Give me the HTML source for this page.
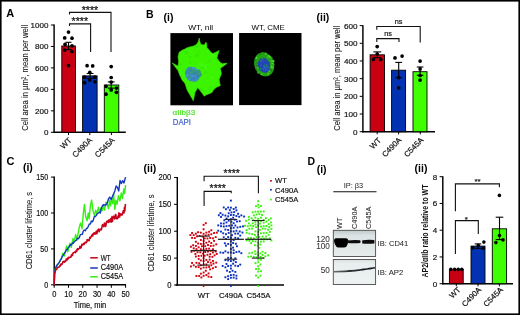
<!DOCTYPE html>
<html><head><meta charset="utf-8"><style>
html,body{margin:0;padding:0;background:#fff;overflow:hidden;}
svg{will-change:transform;display:block;font-family:"Liberation Sans",sans-serif;}
</style></head><body>
<svg width="520" height="315" viewBox="0 0 520 315">
<rect x="0" y="0" width="520" height="315" fill="#fff"/>
<text x="6.20" y="17.20" font-size="11" text-anchor="start" font-weight="bold" fill="#000" >A</text>
<text x="146.00" y="18.00" font-size="10.5" text-anchor="start" font-weight="bold" fill="#000" >B</text>
<text x="6.50" y="165.10" font-size="11" text-anchor="start" font-weight="bold" fill="#000" >C</text>
<text x="307.50" y="165.00" font-size="10.5" text-anchor="start" font-weight="bold" fill="#000" >D</text>
<text x="163.50" y="20.80" font-size="10.5" text-anchor="start" font-weight="bold" fill="#000" >(i)</text>
<text x="316.50" y="20.80" font-size="10.5" text-anchor="start" font-weight="bold" fill="#000" >(ii)</text>
<text x="22.90" y="171.40" font-size="10.5" text-anchor="start" font-weight="bold" fill="#000" >(i)</text>
<text x="143.50" y="172.40" font-size="10.5" text-anchor="start" font-weight="bold" fill="#000" >(ii)</text>
<text x="316.70" y="172.90" font-size="10.5" text-anchor="start" font-weight="bold" fill="#000" >(i)</text>
<text x="414.60" y="172.40" font-size="10.5" text-anchor="start" font-weight="bold" fill="#000" >(ii)</text>
<line x1="54.10" y1="24.60" x2="54.10" y2="133.00" stroke="#000" stroke-width="1.45" />
<line x1="50.90" y1="132.30" x2="54.10" y2="132.30" stroke="#000" stroke-width="1.0" />
<text x="48.40" y="135.20" font-size="8" text-anchor="end" font-weight="normal" fill="#111" stroke="#111" stroke-width="0.18" >0</text>
<line x1="50.90" y1="110.84" x2="54.10" y2="110.84" stroke="#000" stroke-width="1.0" />
<text x="48.40" y="113.74" font-size="8" text-anchor="end" font-weight="normal" fill="#111" stroke="#111" stroke-width="0.18" >200</text>
<line x1="50.90" y1="89.38" x2="54.10" y2="89.38" stroke="#000" stroke-width="1.0" />
<text x="48.40" y="92.28" font-size="8" text-anchor="end" font-weight="normal" fill="#111" stroke="#111" stroke-width="0.18" >400</text>
<line x1="50.90" y1="67.92" x2="54.10" y2="67.92" stroke="#000" stroke-width="1.0" />
<text x="48.40" y="70.82" font-size="8" text-anchor="end" font-weight="normal" fill="#111" stroke="#111" stroke-width="0.18" >600</text>
<line x1="50.90" y1="46.46" x2="54.10" y2="46.46" stroke="#000" stroke-width="1.0" />
<text x="48.40" y="49.36" font-size="8" text-anchor="end" font-weight="normal" fill="#111" stroke="#111" stroke-width="0.18" >800</text>
<line x1="50.90" y1="25.00" x2="54.10" y2="25.00" stroke="#000" stroke-width="1.0" />
<text x="48.40" y="27.90" font-size="8" text-anchor="end" font-weight="normal" fill="#111" stroke="#111" stroke-width="0.18" >1000</text>
<line x1="53.40" y1="132.30" x2="125.80" y2="132.30" stroke="#000" stroke-width="1.45" />
<text x="28.30" y="77.80" font-size="9" text-anchor="middle" font-weight="normal" fill="#111" stroke="#111" stroke-width="0.05" transform="rotate(-90 28.3 77.8)" textLength="106" lengthAdjust="spacingAndGlyphs" >Cell area in µm², mean per well</text>
<rect x="61.80" y="46.00" width="13.70" height="86.30" fill="#c80012" stroke="#000" stroke-width="0.9" />
<rect x="82.60" y="75.90" width="14.50" height="56.40" fill="#0232b2" stroke="#000" stroke-width="0.9" />
<rect x="104.30" y="85.00" width="14.50" height="47.30" fill="#40ff02" stroke="#000" stroke-width="0.9" />
<line x1="68.50" y1="42.30" x2="68.50" y2="49.60" stroke="#000" stroke-width="1.1" />
<line x1="65.50" y1="42.30" x2="71.50" y2="42.30" stroke="#000" stroke-width="1.1" />
<line x1="65.50" y1="49.60" x2="71.50" y2="49.60" stroke="#000" stroke-width="1.1" />
<line x1="90.10" y1="73.50" x2="90.10" y2="78.30" stroke="#000" stroke-width="1.1" />
<line x1="86.70" y1="73.50" x2="93.50" y2="73.50" stroke="#000" stroke-width="1.1" />
<line x1="86.70" y1="78.30" x2="93.50" y2="78.30" stroke="#000" stroke-width="1.1" />
<line x1="111.20" y1="81.90" x2="111.20" y2="88.10" stroke="#000" stroke-width="1.1" />
<line x1="107.80" y1="81.90" x2="114.60" y2="81.90" stroke="#000" stroke-width="1.1" />
<line x1="107.80" y1="88.10" x2="114.60" y2="88.10" stroke="#000" stroke-width="1.1" />
<circle cx="68.50" cy="32.10" r="1.85" fill="#000"/>
<circle cx="64.70" cy="37.90" r="1.85" fill="#000"/>
<circle cx="72.00" cy="38.20" r="1.85" fill="#000"/>
<circle cx="65.10" cy="44.30" r="1.85" fill="#000"/>
<circle cx="72.00" cy="45.80" r="1.85" fill="#000"/>
<circle cx="64.80" cy="50.10" r="1.85" fill="#000"/>
<circle cx="72.00" cy="51.60" r="1.85" fill="#000"/>
<circle cx="68.50" cy="65.60" r="1.85" fill="#000"/>
<circle cx="87.10" cy="65.70" r="1.85" fill="#000"/>
<circle cx="92.70" cy="65.90" r="1.85" fill="#000"/>
<circle cx="89.80" cy="72.40" r="1.85" fill="#000"/>
<circle cx="84.60" cy="77.20" r="1.85" fill="#000"/>
<circle cx="89.80" cy="79.90" r="1.85" fill="#000"/>
<circle cx="94.90" cy="77.20" r="1.85" fill="#000"/>
<circle cx="84.60" cy="82.70" r="1.85" fill="#000"/>
<circle cx="94.90" cy="81.80" r="1.85" fill="#000"/>
<circle cx="111.20" cy="66.60" r="1.85" fill="#000"/>
<circle cx="111.20" cy="77.50" r="1.85" fill="#000"/>
<circle cx="111.20" cy="82.10" r="1.85" fill="#000"/>
<circle cx="106.00" cy="86.30" r="1.85" fill="#000"/>
<circle cx="116.40" cy="88.10" r="1.85" fill="#000"/>
<circle cx="111.20" cy="89.90" r="1.85" fill="#000"/>
<circle cx="116.40" cy="92.30" r="1.85" fill="#000"/>
<circle cx="106.00" cy="94.20" r="1.85" fill="#000"/>
<line x1="68.50" y1="132.30" x2="68.50" y2="135.10" stroke="#000" stroke-width="1.0" />
<line x1="89.80" y1="132.30" x2="89.80" y2="135.10" stroke="#000" stroke-width="1.0" />
<line x1="111.40" y1="132.30" x2="111.40" y2="135.10" stroke="#000" stroke-width="1.0" />
<text x="72.30" y="140.80" font-size="8" text-anchor="end" font-weight="normal" fill="#111" stroke="#111" stroke-width="0.18" transform="rotate(-45 72.3 140.8)" >WT</text>
<text x="92.80" y="140.60" font-size="8" text-anchor="end" font-weight="normal" fill="#111" stroke="#111" stroke-width="0.18" transform="rotate(-45 92.8 140.6)" >C490A</text>
<text x="115.40" y="140.60" font-size="8" text-anchor="end" font-weight="normal" fill="#111" stroke="#111" stroke-width="0.18" transform="rotate(-45 115.4 140.6)" >C545A</text>
<polyline points="69.5,25.9 69.5,23.9 90.6,23.9 90.6,52" fill="none" stroke="#111" stroke-width="1.1"/>
<polyline points="69.5,14.6 69.5,12.4 111,12.4 111,52" fill="none" stroke="#111" stroke-width="1.1"/>
<text x="79.80" y="25.20" font-size="10.6" text-anchor="middle" font-weight="normal" fill="#111" stroke="#1a1a1a" stroke-width="0.25">****</text>
<text x="90.00" y="13.80" font-size="10.6" text-anchor="middle" font-weight="normal" fill="#111" stroke="#1a1a1a" stroke-width="0.25">****</text>
<rect x="170.40" y="33.10" width="62.60" height="72.20" fill="#000" stroke="none" stroke-width="0.8" />
<rect x="239.10" y="33.00" width="62.40" height="72.10" fill="#000" stroke="none" stroke-width="0.8" />
<text x="200.70" y="30.30" font-size="7.9" text-anchor="middle" font-weight="normal" fill="#111" stroke="#111" stroke-width="0.05" textLength="25" lengthAdjust="spacingAndGlyphs" >WT, nil</text>
<text x="268.20" y="30.30" font-size="7.9" text-anchor="middle" font-weight="normal" fill="#111" stroke="#111" stroke-width="0.05" textLength="33.4" lengthAdjust="spacingAndGlyphs" >WT, CME</text>
<text x="172.50" y="115.20" font-size="8.0" text-anchor="start" font-weight="normal" fill="#48e622" stroke="#48e622" stroke-width="0.18" textLength="22.7" lengthAdjust="spacingAndGlyphs" >αIIbβ3</text>
<text x="172.80" y="125.00" font-size="8.2" text-anchor="start" font-weight="normal" fill="#4062cc" stroke="#4062cc" stroke-width="0.18" textLength="18.2" lengthAdjust="spacingAndGlyphs" >DAPI</text>
<defs><filter id="bl" x="-5%" y="-5%" width="110%" height="110%"><feGaussianBlur stdDeviation="0.35"/></filter><filter id="bl2" x="-20%" y="-20%" width="140%" height="140%"><feGaussianBlur stdDeviation="0.6"/></filter><clipPath id="cp1"><rect x="170.4" y="33.1" width="62.6" height="72.2"/></clipPath></defs>
<defs><clipPath id="cpc"><polygon points="199.26,38.11 199.94,42.00 200.86,44.29 202.69,44.74 204.29,44.97 205.89,42.23 206.57,43.14 207.03,47.71 208.40,49.09 210.00,51.14 212.29,53.43 214.11,52.97 215.71,52.29 219.14,50.46 217.54,55.71 216.86,58.00 218.00,59.60 219.14,61.43 220.74,62.80 222.57,63.71 227.14,63.26 223.03,66.46 220.29,68.29 220.97,71.03 221.43,74.00 220.06,76.97 219.14,79.71 220.29,85.66 216.86,87.03 214.57,88.86 212.97,90.69 212.29,92.29 208.86,93.89 206.11,94.80 204.29,96.17 202.00,92.97 199.71,90.00 197.43,87.71 195.83,91.14 195.14,92.29 193.31,100.74 191.03,96.86 189.43,93.89 188.29,92.29 186.46,88.40 186.00,86.57 184.86,83.14 182.57,80.86 181.43,78.57 180.29,76.29 178.69,72.40 178.00,70.57 172.29,63.03 176.86,65.54 178.00,66.00 178.69,61.43 178.00,56.86 178.69,54.11 179.14,52.29 182.57,50.00 184.86,49.09 187.14,47.71 189.43,47.03 191.71,46.57 195.14,45.43 197.43,43.14 198.57,40.86"/></clipPath></defs>
<g clip-path="url(#cp1)" filter="url(#bl)"><polygon points="199.26,38.11 199.94,42.00 200.86,44.29 202.69,44.74 204.29,44.97 205.89,42.23 206.57,43.14 207.03,47.71 208.40,49.09 210.00,51.14 212.29,53.43 214.11,52.97 215.71,52.29 219.14,50.46 217.54,55.71 216.86,58.00 218.00,59.60 219.14,61.43 220.74,62.80 222.57,63.71 227.14,63.26 223.03,66.46 220.29,68.29 220.97,71.03 221.43,74.00 220.06,76.97 219.14,79.71 220.29,85.66 216.86,87.03 214.57,88.86 212.97,90.69 212.29,92.29 208.86,93.89 206.11,94.80 204.29,96.17 202.00,92.97 199.71,90.00 197.43,87.71 195.83,91.14 195.14,92.29 193.31,100.74 191.03,96.86 189.43,93.89 188.29,92.29 186.46,88.40 186.00,86.57 184.86,83.14 182.57,80.86 181.43,78.57 180.29,76.29 178.69,72.40 178.00,70.57 172.29,63.03 176.86,65.54 178.00,66.00 178.69,61.43 178.00,56.86 178.69,54.11 179.14,52.29 182.57,50.00 184.86,49.09 187.14,47.71 189.43,47.03 191.71,46.57 195.14,45.43 197.43,43.14 198.57,40.86" fill="#3cf406" stroke="#34d40a" stroke-width="0.7" stroke-linejoin="round"/>
<g clip-path="url(#cpc)">
<circle cx="217.2" cy="60.2" r="1.1" fill="#30dc04" opacity="0.45"/>
<circle cx="189.8" cy="99.1" r="2.2" fill="#30dc04" opacity="0.45"/>
<circle cx="181.9" cy="79.1" r="1.5" fill="#48ff12" opacity="0.45"/>
<circle cx="175.5" cy="99.3" r="1.0" fill="#30dc04" opacity="0.45"/>
<circle cx="201.4" cy="91.8" r="1.1" fill="#48ff12" opacity="0.45"/>
<circle cx="180.3" cy="74.2" r="1.2" fill="#48ff12" opacity="0.45"/>
<circle cx="185.1" cy="51.9" r="0.9" fill="#30dc04" opacity="0.45"/>
<circle cx="211.7" cy="95.9" r="1.6" fill="#36e806" opacity="0.45"/>
<circle cx="178.1" cy="92.0" r="2.2" fill="#36e806" opacity="0.45"/>
<circle cx="185.4" cy="60.4" r="0.9" fill="#36e806" opacity="0.45"/>
<circle cx="198.9" cy="44.9" r="1.9" fill="#36e806" opacity="0.45"/>
<circle cx="226.6" cy="56.9" r="1.7" fill="#36e806" opacity="0.45"/>
<circle cx="226.7" cy="61.8" r="1.5" fill="#48ff12" opacity="0.45"/>
<circle cx="214.6" cy="98.6" r="1.5" fill="#30dc04" opacity="0.45"/>
<circle cx="204.9" cy="65.0" r="1.0" fill="#48ff12" opacity="0.45"/>
<circle cx="174.7" cy="101.1" r="0.9" fill="#36e806" opacity="0.45"/>
<circle cx="176.1" cy="62.2" r="2.2" fill="#30dc04" opacity="0.45"/>
<circle cx="187.8" cy="71.2" r="1.6" fill="#48ff12" opacity="0.45"/>
<circle cx="177.0" cy="69.2" r="1.8" fill="#30dc04" opacity="0.45"/>
<circle cx="182.0" cy="72.9" r="0.8" fill="#48ff12" opacity="0.45"/>
<circle cx="223.4" cy="97.3" r="1.9" fill="#36e806" opacity="0.45"/>
<circle cx="174.0" cy="89.2" r="1.0" fill="#30dc04" opacity="0.45"/>
<circle cx="211.9" cy="54.9" r="1.7" fill="#48ff12" opacity="0.45"/>
<circle cx="180.1" cy="64.2" r="1.5" fill="#30dc04" opacity="0.45"/>
<circle cx="186.9" cy="53.0" r="2.0" fill="#30dc04" opacity="0.45"/>
<circle cx="182.9" cy="41.6" r="2.1" fill="#30dc04" opacity="0.45"/>
<circle cx="210.2" cy="87.7" r="2.2" fill="#36e806" opacity="0.45"/>
<circle cx="212.5" cy="77.3" r="1.5" fill="#48ff12" opacity="0.45"/>
<circle cx="206.3" cy="94.9" r="1.5" fill="#48ff12" opacity="0.45"/>
<circle cx="189.9" cy="57.1" r="1.4" fill="#30dc04" opacity="0.45"/>
<circle cx="175.0" cy="70.2" r="0.8" fill="#36e806" opacity="0.45"/>
<circle cx="181.6" cy="45.6" r="2.0" fill="#36e806" opacity="0.45"/>
<circle cx="185.0" cy="45.2" r="1.4" fill="#30dc04" opacity="0.45"/>
<circle cx="225.4" cy="63.8" r="1.4" fill="#48ff12" opacity="0.45"/>
<circle cx="202.8" cy="90.7" r="1.4" fill="#36e806" opacity="0.45"/>
<circle cx="197.1" cy="55.6" r="2.0" fill="#30dc04" opacity="0.45"/>
<circle cx="220.3" cy="60.1" r="2.1" fill="#48ff12" opacity="0.45"/>
<circle cx="226.4" cy="86.8" r="2.2" fill="#48ff12" opacity="0.45"/>
<circle cx="227.2" cy="87.6" r="1.7" fill="#48ff12" opacity="0.45"/>
<circle cx="201.2" cy="64.8" r="2.0" fill="#48ff12" opacity="0.45"/>
<circle cx="226.4" cy="94.3" r="2.0" fill="#36e806" opacity="0.45"/>
<circle cx="190.7" cy="44.9" r="1.7" fill="#30dc04" opacity="0.45"/>
<circle cx="181.4" cy="97.6" r="1.8" fill="#30dc04" opacity="0.45"/>
<circle cx="223.2" cy="76.5" r="1.6" fill="#36e806" opacity="0.45"/>
<circle cx="205.3" cy="72.7" r="2.0" fill="#36e806" opacity="0.45"/>
<circle cx="180.5" cy="82.9" r="1.0" fill="#30dc04" opacity="0.45"/>
<circle cx="209.2" cy="61.3" r="1.7" fill="#36e806" opacity="0.45"/>
<circle cx="207.7" cy="99.2" r="0.9" fill="#36e806" opacity="0.45"/>
<circle cx="190.2" cy="62.3" r="1.7" fill="#36e806" opacity="0.45"/>
<circle cx="219.8" cy="42.9" r="1.8" fill="#30dc04" opacity="0.45"/>
<circle cx="200.8" cy="88.9" r="1.5" fill="#30dc04" opacity="0.45"/>
<circle cx="197.2" cy="46.8" r="1.3" fill="#30dc04" opacity="0.45"/>
<circle cx="176.1" cy="88.7" r="1.9" fill="#36e806" opacity="0.45"/>
<circle cx="224.6" cy="79.3" r="2.0" fill="#36e806" opacity="0.45"/>
<circle cx="222.1" cy="45.4" r="0.9" fill="#36e806" opacity="0.45"/>
<circle cx="195.0" cy="84.3" r="1.0" fill="#48ff12" opacity="0.45"/>
<circle cx="185.0" cy="75.2" r="1.8" fill="#48ff12" opacity="0.45"/>
<circle cx="199.3" cy="51.8" r="1.6" fill="#36e806" opacity="0.45"/>
<circle cx="194.9" cy="80.9" r="1.6" fill="#30dc04" opacity="0.45"/>
<circle cx="195.7" cy="46.0" r="1.9" fill="#36e806" opacity="0.45"/>
<circle cx="227.7" cy="59.0" r="1.7" fill="#48ff12" opacity="0.45"/>
<circle cx="226.1" cy="66.6" r="1.5" fill="#48ff12" opacity="0.45"/>
<circle cx="216.4" cy="53.2" r="1.3" fill="#30dc04" opacity="0.45"/>
<circle cx="224.7" cy="61.4" r="1.0" fill="#48ff12" opacity="0.45"/>
<circle cx="202.4" cy="67.7" r="1.2" fill="#30dc04" opacity="0.45"/>
<circle cx="211.6" cy="45.8" r="1.6" fill="#30dc04" opacity="0.45"/>
<circle cx="189.1" cy="50.7" r="0.8" fill="#48ff12" opacity="0.45"/>
<circle cx="205.4" cy="66.8" r="1.5" fill="#48ff12" opacity="0.45"/>
<circle cx="211.3" cy="94.3" r="1.9" fill="#36e806" opacity="0.45"/>
<circle cx="197.8" cy="93.4" r="1.3" fill="#48ff12" opacity="0.45"/>
</g>
<path d="M186,70 Q187,66.5 191,66.8 Q195,67 197.5,70 Q200,72.5 202,74.5 Q201.5,76.5 199.5,77.5 Q198.5,81 195,81.8 Q190.5,82.2 187.5,79.5 Q184.8,76.5 185.2,73 Q185.3,71.2 186,70 Z" fill="#3a88c4" opacity="0.95"/>
<circle cx="199.31" cy="71.08" r="0.87" fill="#3a9a5a" opacity="0.75"/>
<circle cx="187.67" cy="72.50" r="0.62" fill="#4a98e8" opacity="0.75"/>
<circle cx="187.16" cy="70.65" r="0.96" fill="#3a9a5a" opacity="0.75"/>
<circle cx="187.92" cy="75.95" r="0.65" fill="#3468c0" opacity="0.75"/>
<circle cx="189.61" cy="79.80" r="0.79" fill="#40a860" opacity="0.75"/>
<circle cx="195.69" cy="74.16" r="0.70" fill="#4a98e8" opacity="0.75"/>
<circle cx="186.46" cy="76.27" r="0.63" fill="#3a78d8" opacity="0.75"/>
<circle cx="189.31" cy="72.43" r="1.22" fill="#2e9a6a" opacity="0.75"/>
<circle cx="189.78" cy="69.32" r="0.72" fill="#3a78d8" opacity="0.75"/>
<circle cx="192.15" cy="74.65" r="0.67" fill="#3468c0" opacity="0.75"/>
<circle cx="190.78" cy="71.88" r="1.05" fill="#40a860" opacity="0.75"/>
<circle cx="200.27" cy="75.59" r="0.68" fill="#3a9a5a" opacity="0.75"/>
<circle cx="200.34" cy="74.10" r="0.62" fill="#2e9a6a" opacity="0.75"/>
<circle cx="192.40" cy="69.72" r="0.88" fill="#4a98e8" opacity="0.75"/>
<circle cx="196.13" cy="75.53" r="0.96" fill="#4a98e8" opacity="0.75"/>
<circle cx="187.15" cy="71.13" r="1.06" fill="#2e9a6a" opacity="0.75"/>
<circle cx="195.19" cy="68.09" r="0.72" fill="#40a860" opacity="0.75"/>
<circle cx="196.37" cy="69.10" r="0.85" fill="#4a98e8" opacity="0.75"/>
<circle cx="191.04" cy="79.48" r="0.66" fill="#3468c0" opacity="0.75"/>
<circle cx="195.46" cy="79.01" r="1.06" fill="#40a860" opacity="0.75"/>
<circle cx="195.59" cy="73.46" r="0.91" fill="#3a9a5a" opacity="0.75"/>
<circle cx="189.62" cy="76.98" r="0.67" fill="#3a9a5a" opacity="0.75"/>
<circle cx="196.16" cy="78.72" r="0.80" fill="#3a78d8" opacity="0.75"/>
<circle cx="195.15" cy="68.08" r="0.78" fill="#40a860" opacity="0.75"/>
<circle cx="197.42" cy="72.77" r="0.76" fill="#4a98e8" opacity="0.75"/>
<circle cx="193.68" cy="72.90" r="0.77" fill="#3468c0" opacity="0.75"/>
<circle cx="199.86" cy="72.96" r="0.90" fill="#2e9a6a" opacity="0.75"/>
<circle cx="196.06" cy="75.80" r="1.07" fill="#40a860" opacity="0.75"/>
<circle cx="188.00" cy="76.46" r="1.15" fill="#40a860" opacity="0.75"/>
<circle cx="191.97" cy="77.17" r="1.29" fill="#4080d0" opacity="0.75"/>
<circle cx="190.04" cy="70.58" r="0.95" fill="#3468c0" opacity="0.75"/>
<circle cx="198.15" cy="72.77" r="0.71" fill="#3a9a5a" opacity="0.75"/>
<circle cx="194.60" cy="74.43" r="0.61" fill="#3a78d8" opacity="0.75"/>
<circle cx="188.74" cy="78.56" r="0.99" fill="#4a98e8" opacity="0.75"/>
<circle cx="186.38" cy="73.88" r="1.26" fill="#3a9a5a" opacity="0.75"/>
<circle cx="194.68" cy="72.65" r="0.63" fill="#3a9a5a" opacity="0.75"/>
<circle cx="197.75" cy="72.21" r="0.73" fill="#4080d0" opacity="0.75"/>
<circle cx="193.75" cy="67.93" r="1.13" fill="#4a98e8" opacity="0.75"/>
<circle cx="195.45" cy="73.18" r="0.86" fill="#40a860" opacity="0.75"/>
<circle cx="195.20" cy="71.39" r="0.80" fill="#3a78d8" opacity="0.75"/>
<circle cx="188.70" cy="75.69" r="0.84" fill="#40a860" opacity="0.75"/>
<circle cx="189.90" cy="70.29" r="0.94" fill="#4080d0" opacity="0.75"/>
<circle cx="190.54" cy="69.23" r="0.62" fill="#40a860" opacity="0.75"/>
<circle cx="191.41" cy="68.63" r="0.90" fill="#40a860" opacity="0.75"/>
<circle cx="188.12" cy="78.02" r="0.69" fill="#3a78d8" opacity="0.75"/>
<circle cx="192.31" cy="76.18" r="1.24" fill="#4a98e8" opacity="0.75"/>
<circle cx="194.34" cy="79.11" r="0.98" fill="#3a78d8" opacity="0.75"/>
<circle cx="192.19" cy="72.29" r="1.14" fill="#40a860" opacity="0.75"/>
<circle cx="197.45" cy="77.53" r="0.82" fill="#3a78d8" opacity="0.75"/>
<circle cx="196.24" cy="76.37" r="0.77" fill="#3a78d8" opacity="0.75"/>
<circle cx="194.56" cy="71.97" r="1.17" fill="#3a9a5a" opacity="0.75"/>
<circle cx="191.74" cy="69.31" r="0.76" fill="#3468c0" opacity="0.75"/>
<circle cx="192.14" cy="70.20" r="0.88" fill="#40a860" opacity="0.75"/>
<circle cx="196.59" cy="74.66" r="0.74" fill="#3468c0" opacity="0.75"/>
<circle cx="195.23" cy="72.94" r="0.71" fill="#3468c0" opacity="0.75"/>
<circle cx="197.94" cy="70.08" r="1.02" fill="#4a98e8" opacity="0.75"/>
<circle cx="187.80" cy="74.07" r="0.72" fill="#3a78d8" opacity="0.75"/>
<circle cx="191.19" cy="79.34" r="0.97" fill="#2e9a6a" opacity="0.75"/>
<circle cx="197.55" cy="76.02" r="1.16" fill="#4080d0" opacity="0.75"/>
<circle cx="192.74" cy="77.71" r="0.76" fill="#3468c0" opacity="0.75"/>
<circle cx="198.72" cy="70.75" r="1.20" fill="#3a9a5a" opacity="0.75"/>
<circle cx="190.05" cy="76.02" r="1.09" fill="#4080d0" opacity="0.75"/>
<circle cx="189.96" cy="68.36" r="0.76" fill="#2e9a6a" opacity="0.75"/>
<circle cx="198.72" cy="75.99" r="1.29" fill="#2e9a6a" opacity="0.75"/>
<circle cx="194.18" cy="72.40" r="0.90" fill="#4080d0" opacity="0.75"/>
<circle cx="195.39" cy="71.07" r="0.80" fill="#2e9a6a" opacity="0.75"/>
<circle cx="190.68" cy="79.08" r="0.62" fill="#4a98e8" opacity="0.75"/>
<circle cx="191.75" cy="71.00" r="1.28" fill="#2e9a6a" opacity="0.75"/>
<circle cx="198.65" cy="72.17" r="0.95" fill="#2e9a6a" opacity="0.75"/>
<circle cx="187.04" cy="75.01" r="1.21" fill="#4a98e8" opacity="0.75"/>
<circle cx="199.79" cy="71.72" r="1.22" fill="#2e9a6a" opacity="0.75"/>
<circle cx="187.03" cy="71.68" r="0.82" fill="#4080d0" opacity="0.75"/>
<circle cx="189.84" cy="68.89" r="0.71" fill="#40a860" opacity="0.75"/>
<circle cx="194.09" cy="78.19" r="0.62" fill="#3a9a5a" opacity="0.75"/>
<circle cx="200.32" cy="72.77" r="0.86" fill="#3a9a5a" opacity="0.75"/>
<circle cx="193.35" cy="72.34" r="0.97" fill="#2e9a6a" opacity="0.75"/>
<circle cx="196.41" cy="71.30" r="0.80" fill="#4080d0" opacity="0.75"/>
<circle cx="197.89" cy="74.45" r="1.08" fill="#3a9a5a" opacity="0.75"/>
<circle cx="195.41" cy="70.91" r="0.88" fill="#40a860" opacity="0.75"/>
<circle cx="196.19" cy="70.31" r="0.89" fill="#2e9a6a" opacity="0.75"/>
<circle cx="190.42" cy="68.65" r="0.91" fill="#3a9a5a" opacity="0.75"/>
<circle cx="200.20" cy="74.52" r="1.26" fill="#2e9a6a" opacity="0.75"/>
<circle cx="197.50" cy="76.67" r="0.84" fill="#3a78d8" opacity="0.75"/>
<circle cx="192.46" cy="78.60" r="0.72" fill="#4080d0" opacity="0.75"/>
<circle cx="199.70" cy="73.18" r="0.85" fill="#4a98e8" opacity="0.75"/>
<circle cx="194.68" cy="73.20" r="0.69" fill="#3a9a5a" opacity="0.75"/>
<circle cx="189.72" cy="77.02" r="1.15" fill="#2e9a6a" opacity="0.75"/>
<circle cx="186.72" cy="72.32" r="1.25" fill="#4080d0" opacity="0.75"/>
<circle cx="189.13" cy="71.88" r="1.13" fill="#4080d0" opacity="0.75"/>
<circle cx="194.52" cy="78.92" r="0.69" fill="#3a78d8" opacity="0.75"/>
</g>
<g filter="url(#bl2)">
<ellipse cx="264.2" cy="64.4" rx="9.8" ry="12.3" transform="rotate(-18 264.2 64.4)" fill="#22a014"/>
<circle cx="271.66" cy="63.95" r="0.81" fill="#46e022" opacity="0.9"/>
<circle cx="261.37" cy="55.54" r="1.24" fill="#2aa818" opacity="0.9"/>
<circle cx="271.45" cy="65.57" r="1.29" fill="#2aa818" opacity="0.9"/>
<circle cx="270.01" cy="56.91" r="1.04" fill="#46e022" opacity="0.9"/>
<circle cx="271.86" cy="66.76" r="1.03" fill="#46e022" opacity="0.9"/>
<circle cx="272.44" cy="68.39" r="1.28" fill="#2aa818" opacity="0.9"/>
<circle cx="271.18" cy="61.07" r="0.91" fill="#46e022" opacity="0.9"/>
<circle cx="262.37" cy="53.08" r="1.07" fill="#1e8a12" opacity="0.9"/>
<circle cx="269.01" cy="71.50" r="0.95" fill="#46e022" opacity="0.9"/>
<circle cx="263.88" cy="74.55" r="1.05" fill="#36c01c" opacity="0.9"/>
<circle cx="261.50" cy="54.12" r="1.17" fill="#2aa818" opacity="0.9"/>
<circle cx="273.54" cy="64.36" r="0.78" fill="#46e022" opacity="0.9"/>
<circle cx="261.99" cy="72.99" r="0.92" fill="#2aa818" opacity="0.9"/>
<circle cx="271.09" cy="69.95" r="1.10" fill="#1e8a12" opacity="0.9"/>
<circle cx="261.76" cy="74.15" r="1.00" fill="#46e022" opacity="0.9"/>
<circle cx="257.02" cy="62.93" r="1.08" fill="#1e8a12" opacity="0.9"/>
<circle cx="267.20" cy="72.99" r="1.05" fill="#1e8a12" opacity="0.9"/>
<circle cx="255.70" cy="59.62" r="1.31" fill="#1e8a12" opacity="0.9"/>
<circle cx="268.36" cy="74.60" r="0.91" fill="#2aa818" opacity="0.9"/>
<circle cx="272.01" cy="66.66" r="1.38" fill="#46e022" opacity="0.9"/>
<circle cx="260.51" cy="54.08" r="1.10" fill="#1e8a12" opacity="0.9"/>
<circle cx="265.68" cy="53.82" r="1.36" fill="#36c01c" opacity="0.9"/>
<circle cx="257.18" cy="68.10" r="1.38" fill="#46e022" opacity="0.9"/>
<circle cx="257.85" cy="72.73" r="0.74" fill="#46e022" opacity="0.9"/>
<circle cx="272.26" cy="67.39" r="0.95" fill="#46e022" opacity="0.9"/>
<circle cx="269.34" cy="57.47" r="0.97" fill="#36c01c" opacity="0.9"/>
<circle cx="273.22" cy="61.09" r="1.33" fill="#46e022" opacity="0.9"/>
<circle cx="263.59" cy="74.72" r="1.34" fill="#2aa818" opacity="0.9"/>
<circle cx="272.61" cy="63.63" r="0.80" fill="#46e022" opacity="0.9"/>
<circle cx="268.96" cy="56.30" r="1.21" fill="#46e022" opacity="0.9"/>
<circle cx="271.21" cy="58.93" r="1.34" fill="#2aa818" opacity="0.9"/>
<circle cx="268.00" cy="73.54" r="0.93" fill="#36c01c" opacity="0.9"/>
<circle cx="258.64" cy="72.46" r="0.98" fill="#2aa818" opacity="0.9"/>
<circle cx="260.18" cy="54.14" r="1.07" fill="#1e8a12" opacity="0.9"/>
<circle cx="256.31" cy="68.54" r="1.33" fill="#1e8a12" opacity="0.9"/>
<circle cx="257.15" cy="59.92" r="0.90" fill="#2aa818" opacity="0.9"/>
<circle cx="268.06" cy="73.82" r="0.92" fill="#46e022" opacity="0.9"/>
<circle cx="271.22" cy="70.57" r="1.07" fill="#1e8a12" opacity="0.9"/>
<circle cx="256.53" cy="57.93" r="1.09" fill="#46e022" opacity="0.9"/>
<circle cx="257.04" cy="65.68" r="1.20" fill="#1e8a12" opacity="0.9"/>
<circle cx="273.13" cy="65.75" r="0.93" fill="#2aa818" opacity="0.9"/>
<circle cx="271.77" cy="60.68" r="0.93" fill="#36c01c" opacity="0.9"/>
<circle cx="271.48" cy="57.89" r="1.02" fill="#2aa818" opacity="0.9"/>
<circle cx="268.05" cy="56.78" r="1.39" fill="#36c01c" opacity="0.9"/>
<circle cx="272.76" cy="65.29" r="1.26" fill="#2aa818" opacity="0.9"/>
<ellipse cx="263.9" cy="65.2" rx="5.9" ry="7.6" transform="rotate(-18 263.9 65.2)" fill="#2446b4"/>
<circle cx="268.81" cy="62.68" r="0.89" fill="#1a40b0" opacity="0.8"/>
<circle cx="261.74" cy="64.79" r="0.92" fill="#2a6aa0" opacity="0.8"/>
<circle cx="269.04" cy="67.30" r="0.90" fill="#2a6aa0" opacity="0.8"/>
<circle cx="262.61" cy="58.80" r="0.71" fill="#28a040" opacity="0.8"/>
<circle cx="267.00" cy="65.86" r="1.00" fill="#2a8a50" opacity="0.8"/>
<circle cx="262.92" cy="65.58" r="0.54" fill="#28a040" opacity="0.8"/>
<circle cx="268.90" cy="65.37" r="0.86" fill="#1a40b0" opacity="0.8"/>
<circle cx="268.28" cy="70.12" r="0.97" fill="#2a6aa0" opacity="0.8"/>
<circle cx="267.76" cy="70.66" r="0.97" fill="#1a40b0" opacity="0.8"/>
<circle cx="264.02" cy="66.01" r="0.84" fill="#28a040" opacity="0.8"/>
<circle cx="261.58" cy="65.22" r="0.54" fill="#2a6aa0" opacity="0.8"/>
<circle cx="262.58" cy="58.84" r="0.64" fill="#28a040" opacity="0.8"/>
<circle cx="262.61" cy="64.98" r="0.98" fill="#1a40b0" opacity="0.8"/>
<circle cx="265.01" cy="64.63" r="0.60" fill="#2a8a50" opacity="0.8"/>
<circle cx="268.60" cy="67.30" r="0.71" fill="#2a6aa0" opacity="0.8"/>
<circle cx="260.77" cy="59.86" r="0.73" fill="#2a6aa0" opacity="0.8"/>
<circle cx="268.66" cy="69.03" r="0.79" fill="#1a40b0" opacity="0.8"/>
<circle cx="264.71" cy="67.81" r="0.83" fill="#3060e0" opacity="0.8"/>
<circle cx="267.28" cy="69.43" r="0.88" fill="#2a8a50" opacity="0.8"/>
<circle cx="260.81" cy="68.76" r="0.61" fill="#2a6aa0" opacity="0.8"/>
<circle cx="260.56" cy="68.49" r="0.83" fill="#28a040" opacity="0.8"/>
<circle cx="263.52" cy="69.03" r="0.67" fill="#28a040" opacity="0.8"/>
<circle cx="261.06" cy="60.97" r="0.95" fill="#2a8a50" opacity="0.8"/>
<circle cx="265.88" cy="69.65" r="0.86" fill="#3060e0" opacity="0.8"/>
<circle cx="266.37" cy="66.38" r="0.82" fill="#2a8a50" opacity="0.8"/>
<circle cx="263.69" cy="61.07" r="0.67" fill="#2a6aa0" opacity="0.8"/>
<circle cx="265.07" cy="70.75" r="0.62" fill="#3060e0" opacity="0.8"/>
<circle cx="266.94" cy="67.49" r="0.82" fill="#3060e0" opacity="0.8"/>
<circle cx="266.63" cy="64.44" r="0.51" fill="#3060e0" opacity="0.8"/>
<circle cx="265.30" cy="67.41" r="0.63" fill="#2a8a50" opacity="0.8"/>
</g>
<line x1="362.90" y1="25.20" x2="362.90" y2="132.40" stroke="#000" stroke-width="1.45" />
<line x1="359.70" y1="131.70" x2="362.90" y2="131.70" stroke="#000" stroke-width="1.0" />
<text x="357.40" y="134.60" font-size="8.1" text-anchor="end" font-weight="normal" fill="#111" stroke="#111" stroke-width="0.18" >0</text>
<line x1="359.70" y1="114.02" x2="362.90" y2="114.02" stroke="#000" stroke-width="1.0" />
<text x="357.40" y="116.92" font-size="8.1" text-anchor="end" font-weight="normal" fill="#111" stroke="#111" stroke-width="0.18" >100</text>
<line x1="359.70" y1="96.34" x2="362.90" y2="96.34" stroke="#000" stroke-width="1.0" />
<text x="357.40" y="99.24" font-size="8.1" text-anchor="end" font-weight="normal" fill="#111" stroke="#111" stroke-width="0.18" >200</text>
<line x1="359.70" y1="78.66" x2="362.90" y2="78.66" stroke="#000" stroke-width="1.0" />
<text x="357.40" y="81.56" font-size="8.1" text-anchor="end" font-weight="normal" fill="#111" stroke="#111" stroke-width="0.18" >300</text>
<line x1="359.70" y1="60.98" x2="362.90" y2="60.98" stroke="#000" stroke-width="1.0" />
<text x="357.40" y="63.88" font-size="8.1" text-anchor="end" font-weight="normal" fill="#111" stroke="#111" stroke-width="0.18" >400</text>
<line x1="359.70" y1="43.30" x2="362.90" y2="43.30" stroke="#000" stroke-width="1.0" />
<text x="357.40" y="46.20" font-size="8.1" text-anchor="end" font-weight="normal" fill="#111" stroke="#111" stroke-width="0.18" >500</text>
<line x1="359.70" y1="25.62" x2="362.90" y2="25.62" stroke="#000" stroke-width="1.0" />
<text x="357.40" y="28.52" font-size="8.1" text-anchor="end" font-weight="normal" fill="#111" stroke="#111" stroke-width="0.18" >600</text>
<line x1="362.20" y1="131.70" x2="435.00" y2="131.70" stroke="#000" stroke-width="1.45" />
<text x="340.30" y="78.30" font-size="8.9" text-anchor="middle" font-weight="normal" fill="#111" stroke="#111" stroke-width="0.05" transform="rotate(-90 340.3 78.3)" textLength="105" lengthAdjust="spacingAndGlyphs" >Cell area in µm², mean per well</text>
<rect x="370.10" y="54.80" width="14.40" height="76.90" fill="#c80012" stroke="#000" stroke-width="0.9" />
<rect x="391.60" y="70.20" width="14.00" height="61.50" fill="#0232b2" stroke="#000" stroke-width="0.9" />
<rect x="413.00" y="71.70" width="14.00" height="60.00" fill="#40ff02" stroke="#000" stroke-width="0.9" />
<line x1="377.30" y1="51.90" x2="377.30" y2="57.70" stroke="#000" stroke-width="1.1" />
<line x1="373.40" y1="51.90" x2="381.20" y2="51.90" stroke="#000" stroke-width="1.1" />
<line x1="373.40" y1="57.70" x2="381.20" y2="57.70" stroke="#000" stroke-width="1.1" />
<line x1="398.70" y1="62.40" x2="398.70" y2="77.70" stroke="#000" stroke-width="1.1" />
<line x1="395.30" y1="62.40" x2="402.10" y2="62.40" stroke="#000" stroke-width="1.1" />
<line x1="395.30" y1="77.70" x2="402.10" y2="77.70" stroke="#000" stroke-width="1.1" />
<line x1="420.10" y1="67.00" x2="420.10" y2="75.30" stroke="#000" stroke-width="1.1" />
<line x1="416.80" y1="67.00" x2="423.40" y2="67.00" stroke="#000" stroke-width="1.1" />
<line x1="416.80" y1="75.30" x2="423.40" y2="75.30" stroke="#000" stroke-width="1.1" />
<circle cx="377.20" cy="46.60" r="1.85" fill="#000"/>
<circle cx="377.20" cy="54.00" r="1.85" fill="#000"/>
<circle cx="373.40" cy="59.50" r="1.85" fill="#000"/>
<circle cx="380.80" cy="59.50" r="1.85" fill="#000"/>
<circle cx="395.00" cy="57.90" r="1.85" fill="#000"/>
<circle cx="402.10" cy="56.10" r="1.85" fill="#000"/>
<circle cx="398.70" cy="77.60" r="1.85" fill="#000"/>
<circle cx="398.70" cy="87.80" r="1.85" fill="#000"/>
<circle cx="420.10" cy="61.10" r="1.85" fill="#000"/>
<circle cx="420.10" cy="68.90" r="1.85" fill="#000"/>
<circle cx="420.10" cy="75.50" r="1.85" fill="#000"/>
<circle cx="420.10" cy="80.10" r="1.85" fill="#000"/>
<line x1="377.20" y1="131.70" x2="377.20" y2="134.30" stroke="#000" stroke-width="1.0" />
<line x1="398.60" y1="131.70" x2="398.60" y2="134.30" stroke="#000" stroke-width="1.0" />
<line x1="420.30" y1="131.70" x2="420.30" y2="134.30" stroke="#000" stroke-width="1.0" />
<text x="381.50" y="141.00" font-size="7.8" text-anchor="end" font-weight="normal" fill="#111" stroke="#111" stroke-width="0.18" transform="rotate(-45 381.5 141)" >WT</text>
<text x="402.00" y="140.60" font-size="7.8" text-anchor="end" font-weight="normal" fill="#111" stroke="#111" stroke-width="0.18" transform="rotate(-45 402 140.6)" >C490A</text>
<text x="424.00" y="140.60" font-size="7.8" text-anchor="end" font-weight="normal" fill="#111" stroke="#111" stroke-width="0.18" transform="rotate(-45 424 140.6)" >C545A</text>
<polyline points="376.8,42 376.8,38.6 399,38.6 399,42" fill="none" stroke="#111" stroke-width="1.1"/>
<polyline points="376.8,29.8 376.8,26.5 420.2,26.5 420.2,42.5" fill="none" stroke="#111" stroke-width="1.1"/>
<text x="388.00" y="35.50" font-size="7.3" text-anchor="middle" font-weight="normal" fill="#111" stroke="#111" stroke-width="0.18" >ns</text>
<text x="398.50" y="23.50" font-size="7.3" text-anchor="middle" font-weight="normal" fill="#111" stroke="#111" stroke-width="0.18" >ns</text>
<line x1="54.20" y1="176.50" x2="54.20" y2="285.50" stroke="#000" stroke-width="1.45" />
<line x1="51.00" y1="284.80" x2="54.20" y2="284.80" stroke="#000" stroke-width="1.0" />
<text x="48.20" y="287.80" font-size="8.6" text-anchor="end" font-weight="normal" fill="#111" stroke="#111" stroke-width="0.18" textLength="3.97" lengthAdjust="spacingAndGlyphs" >0</text>
<line x1="51.00" y1="248.90" x2="54.20" y2="248.90" stroke="#000" stroke-width="1.0" />
<text x="48.20" y="251.90" font-size="8.6" text-anchor="end" font-weight="normal" fill="#111" stroke="#111" stroke-width="0.18" textLength="7.94" lengthAdjust="spacingAndGlyphs" >50</text>
<line x1="51.00" y1="213.00" x2="54.20" y2="213.00" stroke="#000" stroke-width="1.0" />
<text x="48.20" y="216.00" font-size="8.6" text-anchor="end" font-weight="normal" fill="#111" stroke="#111" stroke-width="0.18" textLength="11.91" lengthAdjust="spacingAndGlyphs" >100</text>
<line x1="51.00" y1="177.10" x2="54.20" y2="177.10" stroke="#000" stroke-width="1.0" />
<text x="48.20" y="180.10" font-size="8.6" text-anchor="end" font-weight="normal" fill="#111" stroke="#111" stroke-width="0.18" textLength="11.91" lengthAdjust="spacingAndGlyphs" >150</text>
<line x1="53.50" y1="284.80" x2="126.00" y2="284.80" stroke="#000" stroke-width="1.45" />
<line x1="54.20" y1="284.80" x2="54.20" y2="287.80" stroke="#000" stroke-width="1.0" />
<text x="54.20" y="297.20" font-size="8.6" text-anchor="middle" font-weight="normal" fill="#111" stroke="#111" stroke-width="0.18" textLength="4.15" lengthAdjust="spacingAndGlyphs" >0</text>
<line x1="68.48" y1="284.80" x2="68.48" y2="287.80" stroke="#000" stroke-width="1.0" />
<text x="68.48" y="297.20" font-size="8.6" text-anchor="middle" font-weight="normal" fill="#111" stroke="#111" stroke-width="0.18" textLength="8.3" lengthAdjust="spacingAndGlyphs" >10</text>
<line x1="82.76" y1="284.80" x2="82.76" y2="287.80" stroke="#000" stroke-width="1.0" />
<text x="82.76" y="297.20" font-size="8.6" text-anchor="middle" font-weight="normal" fill="#111" stroke="#111" stroke-width="0.18" textLength="8.3" lengthAdjust="spacingAndGlyphs" >20</text>
<line x1="97.04" y1="284.80" x2="97.04" y2="287.80" stroke="#000" stroke-width="1.0" />
<text x="97.04" y="297.20" font-size="8.6" text-anchor="middle" font-weight="normal" fill="#111" stroke="#111" stroke-width="0.18" textLength="8.3" lengthAdjust="spacingAndGlyphs" >30</text>
<line x1="111.32" y1="284.80" x2="111.32" y2="287.80" stroke="#000" stroke-width="1.0" />
<text x="111.32" y="297.20" font-size="8.6" text-anchor="middle" font-weight="normal" fill="#111" stroke="#111" stroke-width="0.18" textLength="8.3" lengthAdjust="spacingAndGlyphs" >40</text>
<line x1="125.60" y1="284.80" x2="125.60" y2="287.80" stroke="#000" stroke-width="1.0" />
<text x="125.60" y="297.20" font-size="8.6" text-anchor="middle" font-weight="normal" fill="#111" stroke="#111" stroke-width="0.18" textLength="8.3" lengthAdjust="spacingAndGlyphs" >50</text>
<text x="90.00" y="308.30" font-size="8.2" text-anchor="middle" font-weight="normal" fill="#111" stroke="#111" stroke-width="0.18" textLength="32.6" lengthAdjust="spacingAndGlyphs" >Time, min</text>
<text x="32.30" y="230.60" font-size="9" text-anchor="middle" font-weight="normal" fill="#111" stroke="#111" stroke-width="0.05" transform="rotate(-90 32.3 230.6)" textLength="77.4" lengthAdjust="spacingAndGlyphs" >CD61 cluster lifetime, s</text>
<polyline points="54.20,284.80 54.63,271.88 55.63,267.57 58.48,263.26 61.34,258.95 62.77,253.21 64.20,256.08 66.62,246.03 67.77,251.77 69.91,243.16 71.34,247.46 73.05,238.49 74.19,241.72 75.62,234.54 77.05,240.28 78.05,233.82 79.19,227.36 80.62,223.05 82.05,228.80 83.19,214.44 84.47,204.38 85.62,216.59 87.04,220.90 88.19,213.00 89.19,218.74 90.33,205.82 91.61,200.08 92.76,209.41 93.61,213.00 94.61,215.87 95.61,210.13 97.04,213.72 98.47,207.26 99.61,212.28 100.90,207.97 102.04,210.85 103.47,205.82 104.61,210.13 105.89,202.23 107.32,204.38 108.46,208.69 109.61,200.08 110.61,205.82 111.75,197.92 112.75,203.67 113.60,193.97 114.89,209.41 115.89,200.08 117.03,204.38 118.46,195.77 119.89,200.79 121.32,192.90 122.46,198.64 123.74,189.02 124.60,193.61 125.60,185.00" fill="none" stroke="#36ef12" stroke-width="1.4" stroke-linejoin="round"/>
<polyline points="54.20,284.80 54.63,271.88 55.34,269.40 56.34,266.17 57.34,264.55 58.34,263.71 59.34,262.30 60.34,260.18 61.34,258.72 62.34,256.35 63.34,254.92 64.34,253.45 65.34,251.91 66.34,250.16 67.34,249.34 68.34,247.30 69.34,246.64 70.34,244.59 71.34,245.07 72.34,242.95 73.34,243.31 74.33,241.38 75.33,241.11 76.33,240.12 77.33,238.28 78.33,238.73 79.33,237.55 80.33,234.68 81.33,234.40 82.33,234.20 83.33,231.04 84.33,229.96 85.33,230.82 86.33,228.69 87.33,228.12 88.33,226.30 89.33,224.05 90.33,224.10 91.33,221.05 92.33,221.86 93.33,220.15 94.33,216.44 95.33,216.65 96.33,215.42 97.33,213.58 98.33,212.99 99.32,212.33 100.32,213.00 101.32,208.42 102.32,205.97 103.32,204.70 104.61,205.00 105.89,205.03 107.18,203.13 108.46,198.95 109.75,197.08 111.03,199.55 112.32,196.79 113.60,193.87 114.89,190.64 116.18,186.04 117.46,187.47 118.75,191.01 120.03,180.46 121.32,183.41 122.60,180.68 123.89,183.02 125.60,177.10" fill="none" stroke="#1038c0" stroke-width="1.4" stroke-linejoin="round"/>
<polyline points="54.20,284.80 54.63,273.31 55.06,272.79 55.49,270.79 55.91,269.79 56.34,269.18 56.77,269.22 57.20,267.77 57.63,267.31 58.06,267.40 58.48,266.98 58.91,267.04 59.34,267.04 59.77,265.94 60.20,265.11 60.63,265.64 61.05,263.86 61.48,264.48 61.91,264.06 62.34,263.99 62.77,261.81 63.20,261.96 63.62,261.34 64.05,261.51 64.48,262.32 64.91,261.39 65.34,260.70 65.77,261.14 66.20,259.07 66.62,259.94 67.05,260.04 67.48,258.30 67.91,259.43 68.34,257.35 68.77,258.04 69.19,257.48 69.62,257.59 70.05,256.93 70.48,257.26 70.91,257.23 71.34,254.91 71.76,255.97 72.19,254.28 72.62,255.23 73.05,253.00 73.48,252.76 73.91,252.68 74.33,252.25 74.76,252.29 75.19,251.50 75.62,252.64 76.05,251.33 76.48,250.01 76.91,251.23 77.33,248.92 77.76,248.59 78.19,249.47 78.62,249.18 79.05,248.54 79.48,248.31 79.90,246.20 80.33,247.50 80.76,248.13 81.19,247.54 81.62,245.32 82.05,244.09 82.47,245.15 82.90,244.75 83.33,244.18 83.76,243.18 84.19,244.41 84.62,242.82 85.04,242.59 85.47,241.99 85.90,243.02 86.33,242.67 86.76,241.71 87.19,239.41 87.62,240.94 88.04,239.72 88.47,240.31 88.90,240.62 89.33,240.38 89.76,237.39 90.19,237.12 90.61,238.15 91.04,236.66 91.47,236.29 91.90,235.08 92.33,234.46 92.76,236.10 93.18,233.53 93.61,233.23 94.04,234.24 94.47,232.72 94.90,233.84 95.33,233.90 95.75,234.03 96.18,231.14 96.61,233.61 97.04,233.61 97.47,230.22 97.90,229.95 98.33,230.76 98.75,228.89 99.18,231.81 99.61,230.56 100.04,230.04 100.47,229.10 100.90,229.80 101.32,229.87 101.75,228.30 102.18,225.40 102.61,224.62 103.04,225.29 103.47,226.12 103.89,226.79 104.32,223.10 104.75,224.75 105.18,223.43 105.61,226.43 106.04,225.21 106.46,221.81 106.89,221.66 107.32,220.87 107.75,221.90 108.18,222.42 108.61,221.29 109.04,219.56 109.46,221.98 109.89,220.46 110.32,221.46 110.75,218.52 111.18,222.18 111.61,218.31 112.03,216.60 112.46,221.39 112.89,218.04 113.32,217.52 113.75,216.11 114.18,217.34 114.60,218.93 115.03,217.86 115.46,214.45 115.89,214.49 116.32,218.70 116.75,218.70 117.17,218.47 117.60,218.65 118.03,215.91 118.46,217.50 118.89,212.87 119.32,213.90 119.75,216.90 120.17,214.09 120.60,215.09 121.03,213.70 121.46,215.10 121.89,215.12 122.32,214.69 122.74,213.13 123.17,210.64 123.60,211.35 124.03,213.00 124.46,207.26 124.89,210.85 125.31,204.38 125.60,205.82" fill="none" stroke="#c8001a" stroke-width="1.5" stroke-linejoin="round"/>
<line x1="90.20" y1="257.80" x2="97.80" y2="257.80" stroke="#c8001a" stroke-width="1.5" />
<text x="100.70" y="260.70" font-size="8.4" text-anchor="start" font-weight="normal" fill="#111" stroke="#111" stroke-width="0.18" textLength="10.0" lengthAdjust="spacingAndGlyphs" >WT</text>
<line x1="90.20" y1="268.00" x2="97.80" y2="268.00" stroke="#1038c0" stroke-width="1.5" />
<text x="100.70" y="269.80" font-size="8.4" text-anchor="start" font-weight="normal" fill="#111" stroke="#111" stroke-width="0.18" textLength="22.4" lengthAdjust="spacingAndGlyphs" >C490A</text>
<line x1="90.20" y1="276.80" x2="97.80" y2="276.80" stroke="#36ef12" stroke-width="1.5" />
<text x="100.70" y="279.00" font-size="8.4" text-anchor="start" font-weight="normal" fill="#111" stroke="#111" stroke-width="0.18" textLength="22.4" lengthAdjust="spacingAndGlyphs" >C545A</text>
<line x1="177.30" y1="177.00" x2="177.30" y2="285.70" stroke="#000" stroke-width="1.45" />
<line x1="174.10" y1="285.00" x2="177.30" y2="285.00" stroke="#000" stroke-width="1.0" />
<text x="171.40" y="288.00" font-size="8.8" text-anchor="end" font-weight="normal" fill="#111" stroke="#111" stroke-width="0.18" textLength="4.27" lengthAdjust="spacingAndGlyphs" >0</text>
<line x1="174.10" y1="258.12" x2="177.30" y2="258.12" stroke="#000" stroke-width="1.0" />
<text x="171.40" y="261.12" font-size="8.8" text-anchor="end" font-weight="normal" fill="#111" stroke="#111" stroke-width="0.18" textLength="8.54" lengthAdjust="spacingAndGlyphs" >50</text>
<line x1="174.10" y1="231.24" x2="177.30" y2="231.24" stroke="#000" stroke-width="1.0" />
<text x="171.40" y="234.24" font-size="8.8" text-anchor="end" font-weight="normal" fill="#111" stroke="#111" stroke-width="0.18" textLength="12.81" lengthAdjust="spacingAndGlyphs" >100</text>
<line x1="174.10" y1="204.36" x2="177.30" y2="204.36" stroke="#000" stroke-width="1.0" />
<text x="171.40" y="207.36" font-size="8.8" text-anchor="end" font-weight="normal" fill="#111" stroke="#111" stroke-width="0.18" textLength="12.81" lengthAdjust="spacingAndGlyphs" >150</text>
<line x1="174.10" y1="177.48" x2="177.30" y2="177.48" stroke="#000" stroke-width="1.0" />
<text x="171.40" y="180.48" font-size="8.8" text-anchor="end" font-weight="normal" fill="#111" stroke="#111" stroke-width="0.18" textLength="12.81" lengthAdjust="spacingAndGlyphs" >200</text>
<line x1="175.70" y1="285.00" x2="284.00" y2="285.00" stroke="#000" stroke-width="1.45" />
<text x="154.40" y="233.00" font-size="9" text-anchor="middle" font-weight="normal" fill="#111" stroke="#111" stroke-width="0.05" transform="rotate(-90 154.4 233)" textLength="77" lengthAdjust="spacingAndGlyphs" >CD61 cluster lifetime, s</text>
<rect x="202.65" y="266.59" width="1.9" height="1.9" fill="#d0000e"/>
<rect x="205.40" y="266.53" width="1.9" height="1.9" fill="#d0000e"/>
<rect x="202.65" y="263.67" width="1.9" height="1.9" fill="#d0000e"/>
<rect x="202.65" y="248.77" width="1.9" height="1.9" fill="#d0000e"/>
<rect x="202.65" y="260.08" width="1.9" height="1.9" fill="#d0000e"/>
<rect x="205.40" y="247.85" width="1.9" height="1.9" fill="#d0000e"/>
<rect x="199.90" y="267.73" width="1.9" height="1.9" fill="#d0000e"/>
<rect x="202.65" y="232.84" width="1.9" height="1.9" fill="#d0000e"/>
<rect x="199.90" y="248.28" width="1.9" height="1.9" fill="#d0000e"/>
<rect x="204.30" y="251.10" width="1.9" height="1.9" fill="#d0000e"/>
<rect x="202.10" y="252.67" width="1.9" height="1.9" fill="#d0000e"/>
<rect x="205.40" y="258.99" width="1.9" height="1.9" fill="#d0000e"/>
<rect x="205.40" y="231.62" width="1.9" height="1.9" fill="#d0000e"/>
<rect x="202.65" y="223.89" width="1.9" height="1.9" fill="#d0000e"/>
<rect x="202.65" y="243.02" width="1.9" height="1.9" fill="#d0000e"/>
<rect x="205.40" y="241.77" width="1.9" height="1.9" fill="#d0000e"/>
<rect x="204.85" y="234.48" width="1.9" height="1.9" fill="#d0000e"/>
<rect x="202.65" y="274.83" width="1.9" height="1.9" fill="#d0000e"/>
<rect x="202.65" y="239.93" width="1.9" height="1.9" fill="#d0000e"/>
<rect x="199.90" y="231.71" width="1.9" height="1.9" fill="#d0000e"/>
<rect x="199.90" y="264.31" width="1.9" height="1.9" fill="#d0000e"/>
<rect x="199.35" y="251.39" width="1.9" height="1.9" fill="#d0000e"/>
<rect x="199.90" y="259.48" width="1.9" height="1.9" fill="#d0000e"/>
<rect x="207.05" y="250.67" width="1.9" height="1.9" fill="#d0000e"/>
<rect x="207.05" y="261.02" width="1.9" height="1.9" fill="#d0000e"/>
<rect x="197.70" y="266.11" width="1.9" height="1.9" fill="#d0000e"/>
<rect x="205.40" y="274.10" width="1.9" height="1.9" fill="#d0000e"/>
<rect x="203.75" y="237.45" width="1.9" height="1.9" fill="#d0000e"/>
<rect x="198.25" y="262.29" width="1.9" height="1.9" fill="#d0000e"/>
<rect x="203.75" y="254.76" width="1.9" height="1.9" fill="#d0000e"/>
<rect x="208.15" y="266.04" width="1.9" height="1.9" fill="#d0000e"/>
<rect x="202.65" y="271.59" width="1.9" height="1.9" fill="#d0000e"/>
<rect x="199.90" y="272.74" width="1.9" height="1.9" fill="#d0000e"/>
<rect x="199.90" y="242.93" width="1.9" height="1.9" fill="#d0000e"/>
<rect x="196.60" y="251.30" width="1.9" height="1.9" fill="#d0000e"/>
<rect x="207.05" y="244.07" width="1.9" height="1.9" fill="#d0000e"/>
<rect x="197.15" y="242.58" width="1.9" height="1.9" fill="#d0000e"/>
<rect x="200.45" y="254.84" width="1.9" height="1.9" fill="#d0000e"/>
<rect x="206.50" y="253.84" width="1.9" height="1.9" fill="#d0000e"/>
<rect x="209.25" y="268.41" width="1.9" height="1.9" fill="#d0000e"/>
<rect x="201.55" y="235.60" width="1.9" height="1.9" fill="#d0000e"/>
<rect x="197.70" y="246.31" width="1.9" height="1.9" fill="#d0000e"/>
<rect x="209.80" y="244.97" width="1.9" height="1.9" fill="#d0000e"/>
<rect x="208.15" y="240.58" width="1.9" height="1.9" fill="#d0000e"/>
<rect x="207.60" y="233.69" width="1.9" height="1.9" fill="#d0000e"/>
<rect x="197.70" y="257.92" width="1.9" height="1.9" fill="#d0000e"/>
<rect x="209.80" y="249.85" width="1.9" height="1.9" fill="#d0000e"/>
<rect x="195.50" y="248.15" width="1.9" height="1.9" fill="#d0000e"/>
<rect x="197.70" y="255.00" width="1.9" height="1.9" fill="#d0000e"/>
<rect x="194.95" y="240.83" width="1.9" height="1.9" fill="#d0000e"/>
<rect x="199.90" y="239.03" width="1.9" height="1.9" fill="#d0000e"/>
<rect x="198.80" y="235.00" width="1.9" height="1.9" fill="#d0000e"/>
<rect x="209.25" y="253.22" width="1.9" height="1.9" fill="#d0000e"/>
<rect x="193.30" y="249.86" width="1.9" height="1.9" fill="#d0000e"/>
<rect x="210.35" y="242.07" width="1.9" height="1.9" fill="#d0000e"/>
<rect x="208.70" y="255.80" width="1.9" height="1.9" fill="#d0000e"/>
<rect x="208.15" y="247.65" width="1.9" height="1.9" fill="#d0000e"/>
<rect x="194.95" y="265.84" width="1.9" height="1.9" fill="#d0000e"/>
<rect x="212.00" y="251.50" width="1.9" height="1.9" fill="#d0000e"/>
<rect x="214.75" y="250.56" width="1.9" height="1.9" fill="#d0000e"/>
<rect x="212.00" y="248.26" width="1.9" height="1.9" fill="#d0000e"/>
<rect x="196.05" y="235.39" width="1.9" height="1.9" fill="#d0000e"/>
<rect x="206.50" y="237.54" width="1.9" height="1.9" fill="#d0000e"/>
<rect x="210.35" y="233.32" width="1.9" height="1.9" fill="#d0000e"/>
<rect x="204.85" y="222.23" width="1.9" height="1.9" fill="#d0000e"/>
<rect x="194.95" y="244.95" width="1.9" height="1.9" fill="#d0000e"/>
<rect x="209.25" y="237.02" width="1.9" height="1.9" fill="#d0000e"/>
<rect x="210.35" y="264.29" width="1.9" height="1.9" fill="#d0000e"/>
<rect x="195.50" y="261.89" width="1.9" height="1.9" fill="#d0000e"/>
<rect x="190.55" y="250.83" width="1.9" height="1.9" fill="#d0000e"/>
<rect x="192.75" y="264.33" width="1.9" height="1.9" fill="#d0000e"/>
<rect x="205.40" y="263.43" width="1.9" height="1.9" fill="#d0000e"/>
<rect x="194.95" y="255.59" width="1.9" height="1.9" fill="#d0000e"/>
<rect x="204.30" y="245.22" width="1.9" height="1.9" fill="#d0000e"/>
<rect x="208.70" y="258.68" width="1.9" height="1.9" fill="#d0000e"/>
<rect x="193.85" y="237.14" width="1.9" height="1.9" fill="#d0000e"/>
<rect x="212.55" y="262.61" width="1.9" height="1.9" fill="#d0000e"/>
<rect x="197.15" y="231.24" width="1.9" height="1.9" fill="#d0000e"/>
<rect x="200.45" y="276.52" width="1.9" height="1.9" fill="#d0000e"/>
<rect x="194.95" y="232.71" width="1.9" height="1.9" fill="#d0000e"/>
<rect x="212.00" y="237.39" width="1.9" height="1.9" fill="#d0000e"/>
<rect x="213.10" y="232.07" width="1.9" height="1.9" fill="#d0000e"/>
<rect x="191.10" y="236.91" width="1.9" height="1.9" fill="#d0000e"/>
<rect x="212.00" y="267.31" width="1.9" height="1.9" fill="#d0000e"/>
<rect x="191.10" y="261.99" width="1.9" height="1.9" fill="#d0000e"/>
<rect x="214.75" y="266.04" width="1.9" height="1.9" fill="#d0000e"/>
<rect x="214.75" y="236.16" width="1.9" height="1.9" fill="#d0000e"/>
<rect x="192.75" y="234.13" width="1.9" height="1.9" fill="#d0000e"/>
<rect x="202.65" y="257.25" width="1.9" height="1.9" fill="#d0000e"/>
<rect x="212.55" y="244.69" width="1.9" height="1.9" fill="#d0000e"/>
<rect x="192.20" y="244.26" width="1.9" height="1.9" fill="#d0000e"/>
<rect x="202.65" y="228.33" width="1.9" height="1.9" fill="#d0000e"/>
<rect x="190.00" y="265.48" width="1.9" height="1.9" fill="#d0000e"/>
<rect x="209.80" y="261.72" width="1.9" height="1.9" fill="#d0000e"/>
<rect x="207.60" y="275.69" width="1.9" height="1.9" fill="#d0000e"/>
<rect x="207.60" y="272.48" width="1.9" height="1.9" fill="#d0000e"/>
<rect x="198.25" y="275.07" width="1.9" height="1.9" fill="#d0000e"/>
<rect x="191.10" y="231.99" width="1.9" height="1.9" fill="#d0000e"/>
<rect x="215.85" y="231.71" width="1.9" height="1.9" fill="#d0000e"/>
<rect x="212.00" y="260.03" width="1.9" height="1.9" fill="#d0000e"/>
<rect x="195.50" y="275.00" width="1.9" height="1.9" fill="#d0000e"/>
<rect x="208.15" y="230.82" width="1.9" height="1.9" fill="#d0000e"/>
<rect x="211.45" y="255.90" width="1.9" height="1.9" fill="#d0000e"/>
<rect x="194.40" y="253.00" width="1.9" height="1.9" fill="#d0000e"/>
<rect x="213.65" y="254.37" width="1.9" height="1.9" fill="#d0000e"/>
<rect x="213.10" y="239.89" width="1.9" height="1.9" fill="#d0000e"/>
<rect x="201.00" y="245.30" width="1.9" height="1.9" fill="#d0000e"/>
<rect x="215.30" y="243.38" width="1.9" height="1.9" fill="#d0000e"/>
<rect x="210.35" y="229.31" width="1.9" height="1.9" fill="#d0000e"/>
<rect x="210.35" y="276.11" width="1.9" height="1.9" fill="#d0000e"/>
<rect x="215.30" y="261.68" width="1.9" height="1.9" fill="#d0000e"/>
<rect x="215.85" y="252.97" width="1.9" height="1.9" fill="#d0000e"/>
<rect x="190.00" y="245.77" width="1.9" height="1.9" fill="#d0000e"/>
<rect x="192.75" y="247.26" width="1.9" height="1.9" fill="#d0000e"/>
<rect x="189.45" y="234.12" width="1.9" height="1.9" fill="#d0000e"/>
<rect x="204.85" y="269.78" width="1.9" height="1.9" fill="#d0000e"/>
<line x1="190.60" y1="250.59" x2="216.60" y2="250.59" stroke="#222" stroke-width="1.3" />
<line x1="203.60" y1="236.08" x2="203.60" y2="265.11" stroke="#222" stroke-width="1.1" />
<line x1="197.30" y1="236.08" x2="209.90" y2="236.08" stroke="#222" stroke-width="1.1" />
<line x1="197.30" y1="265.11" x2="209.90" y2="265.11" stroke="#222" stroke-width="1.1" />
<line x1="203.60" y1="285.00" x2="203.60" y2="287.00" stroke="#d0000e" stroke-width="1.6" />
<rect x="229.95" y="230.32" width="1.9" height="1.9" fill="#0a30c0"/>
<rect x="229.95" y="240.36" width="1.9" height="1.9" fill="#0a30c0"/>
<rect x="229.95" y="218.18" width="1.9" height="1.9" fill="#0a30c0"/>
<rect x="232.15" y="216.71" width="1.9" height="1.9" fill="#0a30c0"/>
<rect x="229.95" y="214.03" width="1.9" height="1.9" fill="#0a30c0"/>
<rect x="232.15" y="242.05" width="1.9" height="1.9" fill="#0a30c0"/>
<rect x="230.50" y="220.74" width="1.9" height="1.9" fill="#0a30c0"/>
<rect x="232.70" y="214.01" width="1.9" height="1.9" fill="#0a30c0"/>
<rect x="229.95" y="236.73" width="1.9" height="1.9" fill="#0a30c0"/>
<rect x="229.95" y="251.54" width="1.9" height="1.9" fill="#0a30c0"/>
<rect x="232.70" y="230.44" width="1.9" height="1.9" fill="#0a30c0"/>
<rect x="229.95" y="206.70" width="1.9" height="1.9" fill="#0a30c0"/>
<rect x="231.05" y="234.28" width="1.9" height="1.9" fill="#0a30c0"/>
<rect x="229.95" y="264.68" width="1.9" height="1.9" fill="#0a30c0"/>
<rect x="232.70" y="252.09" width="1.9" height="1.9" fill="#0a30c0"/>
<rect x="232.70" y="208.01" width="1.9" height="1.9" fill="#0a30c0"/>
<rect x="229.95" y="256.97" width="1.9" height="1.9" fill="#0a30c0"/>
<rect x="227.20" y="206.58" width="1.9" height="1.9" fill="#0a30c0"/>
<rect x="229.95" y="276.80" width="1.9" height="1.9" fill="#0a30c0"/>
<rect x="229.95" y="248.15" width="1.9" height="1.9" fill="#0a30c0"/>
<rect x="229.95" y="199.65" width="1.9" height="1.9" fill="#0a30c0"/>
<rect x="227.20" y="215.37" width="1.9" height="1.9" fill="#0a30c0"/>
<rect x="232.15" y="262.77" width="1.9" height="1.9" fill="#0a30c0"/>
<rect x="229.95" y="274.11" width="1.9" height="1.9" fill="#0a30c0"/>
<rect x="235.45" y="215.04" width="1.9" height="1.9" fill="#0a30c0"/>
<rect x="227.20" y="229.00" width="1.9" height="1.9" fill="#0a30c0"/>
<rect x="227.20" y="251.57" width="1.9" height="1.9" fill="#0a30c0"/>
<rect x="229.95" y="243.90" width="1.9" height="1.9" fill="#0a30c0"/>
<rect x="229.95" y="260.13" width="1.9" height="1.9" fill="#0a30c0"/>
<rect x="234.90" y="206.59" width="1.9" height="1.9" fill="#0a30c0"/>
<rect x="229.95" y="267.54" width="1.9" height="1.9" fill="#0a30c0"/>
<rect x="235.45" y="229.81" width="1.9" height="1.9" fill="#0a30c0"/>
<rect x="227.20" y="265.08" width="1.9" height="1.9" fill="#0a30c0"/>
<rect x="232.70" y="249.32" width="1.9" height="1.9" fill="#0a30c0"/>
<rect x="232.70" y="276.65" width="1.9" height="1.9" fill="#0a30c0"/>
<rect x="227.75" y="231.92" width="1.9" height="1.9" fill="#0a30c0"/>
<rect x="227.20" y="275.22" width="1.9" height="1.9" fill="#0a30c0"/>
<rect x="224.45" y="214.61" width="1.9" height="1.9" fill="#0a30c0"/>
<rect x="235.45" y="251.17" width="1.9" height="1.9" fill="#0a30c0"/>
<rect x="224.45" y="250.39" width="1.9" height="1.9" fill="#0a30c0"/>
<rect x="229.95" y="227.13" width="1.9" height="1.9" fill="#0a30c0"/>
<rect x="238.20" y="215.81" width="1.9" height="1.9" fill="#0a30c0"/>
<rect x="221.70" y="213.79" width="1.9" height="1.9" fill="#0a30c0"/>
<rect x="228.85" y="209.19" width="1.9" height="1.9" fill="#0a30c0"/>
<rect x="230.50" y="211.46" width="1.9" height="1.9" fill="#0a30c0"/>
<rect x="232.15" y="246.69" width="1.9" height="1.9" fill="#0a30c0"/>
<rect x="222.25" y="251.86" width="1.9" height="1.9" fill="#0a30c0"/>
<rect x="234.35" y="232.67" width="1.9" height="1.9" fill="#0a30c0"/>
<rect x="232.70" y="239.14" width="1.9" height="1.9" fill="#0a30c0"/>
<rect x="231.60" y="269.83" width="1.9" height="1.9" fill="#0a30c0"/>
<rect x="227.75" y="219.72" width="1.9" height="1.9" fill="#0a30c0"/>
<rect x="234.35" y="264.73" width="1.9" height="1.9" fill="#0a30c0"/>
<rect x="225.55" y="263.03" width="1.9" height="1.9" fill="#0a30c0"/>
<rect x="233.80" y="218.83" width="1.9" height="1.9" fill="#0a30c0"/>
<rect x="220.05" y="216.05" width="1.9" height="1.9" fill="#0a30c0"/>
<rect x="232.70" y="259.48" width="1.9" height="1.9" fill="#0a30c0"/>
<rect x="232.70" y="222.20" width="1.9" height="1.9" fill="#0a30c0"/>
<rect x="232.70" y="273.86" width="1.9" height="1.9" fill="#0a30c0"/>
<rect x="228.85" y="271.02" width="1.9" height="1.9" fill="#0a30c0"/>
<rect x="232.70" y="226.89" width="1.9" height="1.9" fill="#0a30c0"/>
<rect x="228.30" y="224.80" width="1.9" height="1.9" fill="#0a30c0"/>
<rect x="240.40" y="214.42" width="1.9" height="1.9" fill="#0a30c0"/>
<rect x="227.20" y="236.09" width="1.9" height="1.9" fill="#0a30c0"/>
<rect x="225.55" y="221.52" width="1.9" height="1.9" fill="#0a30c0"/>
<rect x="224.45" y="266.35" width="1.9" height="1.9" fill="#0a30c0"/>
<rect x="225.00" y="208.26" width="1.9" height="1.9" fill="#0a30c0"/>
<rect x="233.25" y="211.13" width="1.9" height="1.9" fill="#0a30c0"/>
<rect x="227.20" y="242.99" width="1.9" height="1.9" fill="#0a30c0"/>
<rect x="231.05" y="224.46" width="1.9" height="1.9" fill="#0a30c0"/>
<rect x="234.90" y="242.81" width="1.9" height="1.9" fill="#0a30c0"/>
<rect x="225.00" y="238.07" width="1.9" height="1.9" fill="#0a30c0"/>
<rect x="217.85" y="214.27" width="1.9" height="1.9" fill="#0a30c0"/>
<rect x="227.20" y="259.51" width="1.9" height="1.9" fill="#0a30c0"/>
<rect x="238.20" y="250.64" width="1.9" height="1.9" fill="#0a30c0"/>
<rect x="225.00" y="244.73" width="1.9" height="1.9" fill="#0a30c0"/>
<rect x="234.35" y="224.59" width="1.9" height="1.9" fill="#0a30c0"/>
<rect x="227.75" y="212.30" width="1.9" height="1.9" fill="#0a30c0"/>
<rect x="225.55" y="217.57" width="1.9" height="1.9" fill="#0a30c0"/>
<rect x="240.40" y="252.24" width="1.9" height="1.9" fill="#0a30c0"/>
<rect x="237.10" y="265.18" width="1.9" height="1.9" fill="#0a30c0"/>
<rect x="225.55" y="225.19" width="1.9" height="1.9" fill="#0a30c0"/>
<rect x="237.10" y="212.83" width="1.9" height="1.9" fill="#0a30c0"/>
<rect x="243.15" y="215.59" width="1.9" height="1.9" fill="#0a30c0"/>
<rect x="225.00" y="233.27" width="1.9" height="1.9" fill="#0a30c0"/>
<rect x="219.50" y="212.13" width="1.9" height="1.9" fill="#0a30c0"/>
<rect x="236.55" y="226.54" width="1.9" height="1.9" fill="#0a30c0"/>
<rect x="235.45" y="274.73" width="1.9" height="1.9" fill="#0a30c0"/>
<rect x="227.20" y="278.14" width="1.9" height="1.9" fill="#0a30c0"/>
<rect x="234.35" y="257.40" width="1.9" height="1.9" fill="#0a30c0"/>
<rect x="224.45" y="228.61" width="1.9" height="1.9" fill="#0a30c0"/>
<rect x="222.80" y="225.58" width="1.9" height="1.9" fill="#0a30c0"/>
<rect x="237.10" y="232.63" width="1.9" height="1.9" fill="#0a30c0"/>
<rect x="239.30" y="225.88" width="1.9" height="1.9" fill="#0a30c0"/>
<rect x="221.70" y="265.03" width="1.9" height="1.9" fill="#0a30c0"/>
<rect x="222.25" y="232.34" width="1.9" height="1.9" fill="#0a30c0"/>
<rect x="234.35" y="236.85" width="1.9" height="1.9" fill="#0a30c0"/>
<rect x="220.05" y="225.21" width="1.9" height="1.9" fill="#0a30c0"/>
<rect x="242.05" y="225.41" width="1.9" height="1.9" fill="#0a30c0"/>
<rect x="238.75" y="230.53" width="1.9" height="1.9" fill="#0a30c0"/>
<rect x="220.05" y="230.67" width="1.9" height="1.9" fill="#0a30c0"/>
<rect x="222.80" y="206.50" width="1.9" height="1.9" fill="#0a30c0"/>
<rect x="236.00" y="220.58" width="1.9" height="1.9" fill="#0a30c0"/>
<rect x="239.30" y="234.64" width="1.9" height="1.9" fill="#0a30c0"/>
<rect x="217.30" y="224.40" width="1.9" height="1.9" fill="#0a30c0"/>
<rect x="241.50" y="231.57" width="1.9" height="1.9" fill="#0a30c0"/>
<rect x="237.10" y="237.36" width="1.9" height="1.9" fill="#0a30c0"/>
<rect x="226.10" y="269.72" width="1.9" height="1.9" fill="#0a30c0"/>
<rect x="222.80" y="222.59" width="1.9" height="1.9" fill="#0a30c0"/>
<rect x="223.90" y="242.33" width="1.9" height="1.9" fill="#0a30c0"/>
<rect x="217.30" y="229.75" width="1.9" height="1.9" fill="#0a30c0"/>
<rect x="235.45" y="277.50" width="1.9" height="1.9" fill="#0a30c0"/>
<rect x="219.50" y="251.58" width="1.9" height="1.9" fill="#0a30c0"/>
<rect x="234.90" y="261.18" width="1.9" height="1.9" fill="#0a30c0"/>
<rect x="223.35" y="219.36" width="1.9" height="1.9" fill="#0a30c0"/>
<rect x="234.35" y="270.94" width="1.9" height="1.9" fill="#0a30c0"/>
<rect x="236.00" y="245.30" width="1.9" height="1.9" fill="#0a30c0"/>
<rect x="239.30" y="263.68" width="1.9" height="1.9" fill="#0a30c0"/>
<rect x="224.45" y="259.19" width="1.9" height="1.9" fill="#0a30c0"/>
<rect x="224.45" y="276.31" width="1.9" height="1.9" fill="#0a30c0"/>
<rect x="238.75" y="220.28" width="1.9" height="1.9" fill="#0a30c0"/>
<rect x="222.80" y="236.28" width="1.9" height="1.9" fill="#0a30c0"/>
<rect x="220.05" y="222.46" width="1.9" height="1.9" fill="#0a30c0"/>
<rect x="235.45" y="209.36" width="1.9" height="1.9" fill="#0a30c0"/>
<rect x="227.20" y="256.86" width="1.9" height="1.9" fill="#0a30c0"/>
<line x1="217.90" y1="239.30" x2="243.90" y2="239.30" stroke="#222" stroke-width="1.3" />
<line x1="230.90" y1="219.41" x2="230.90" y2="259.20" stroke="#222" stroke-width="1.1" />
<line x1="224.60" y1="219.41" x2="237.20" y2="219.41" stroke="#222" stroke-width="1.1" />
<line x1="224.60" y1="259.20" x2="237.20" y2="259.20" stroke="#222" stroke-width="1.1" />
<line x1="230.90" y1="285.00" x2="230.90" y2="287.00" stroke="#0a30c0" stroke-width="1.6" />
<rect x="257.25" y="224.72" width="1.9" height="1.9" fill="#3cf010"/>
<rect x="257.25" y="200.18" width="1.9" height="1.9" fill="#3cf010"/>
<rect x="257.25" y="233.65" width="1.9" height="1.9" fill="#3cf010"/>
<rect x="260.00" y="232.34" width="1.9" height="1.9" fill="#3cf010"/>
<rect x="257.25" y="241.82" width="1.9" height="1.9" fill="#3cf010"/>
<rect x="260.00" y="225.58" width="1.9" height="1.9" fill="#3cf010"/>
<rect x="258.90" y="222.69" width="1.9" height="1.9" fill="#3cf010"/>
<rect x="257.25" y="210.71" width="1.9" height="1.9" fill="#3cf010"/>
<rect x="260.00" y="210.68" width="1.9" height="1.9" fill="#3cf010"/>
<rect x="258.35" y="236.08" width="1.9" height="1.9" fill="#3cf010"/>
<rect x="254.50" y="223.51" width="1.9" height="1.9" fill="#3cf010"/>
<rect x="257.25" y="254.07" width="1.9" height="1.9" fill="#3cf010"/>
<rect x="259.45" y="243.55" width="1.9" height="1.9" fill="#3cf010"/>
<rect x="257.25" y="276.52" width="1.9" height="1.9" fill="#3cf010"/>
<rect x="257.25" y="270.52" width="1.9" height="1.9" fill="#3cf010"/>
<rect x="257.25" y="220.53" width="1.9" height="1.9" fill="#3cf010"/>
<rect x="255.60" y="236.06" width="1.9" height="1.9" fill="#3cf010"/>
<rect x="260.55" y="238.04" width="1.9" height="1.9" fill="#3cf010"/>
<rect x="252.30" y="225.15" width="1.9" height="1.9" fill="#3cf010"/>
<rect x="252.85" y="237.43" width="1.9" height="1.9" fill="#3cf010"/>
<rect x="257.25" y="217.83" width="1.9" height="1.9" fill="#3cf010"/>
<rect x="260.00" y="220.29" width="1.9" height="1.9" fill="#3cf010"/>
<rect x="253.95" y="233.95" width="1.9" height="1.9" fill="#3cf010"/>
<rect x="257.25" y="203.80" width="1.9" height="1.9" fill="#3cf010"/>
<rect x="260.00" y="240.69" width="1.9" height="1.9" fill="#3cf010"/>
<rect x="259.45" y="252.48" width="1.9" height="1.9" fill="#3cf010"/>
<rect x="257.80" y="267.95" width="1.9" height="1.9" fill="#3cf010"/>
<rect x="257.25" y="230.96" width="1.9" height="1.9" fill="#3cf010"/>
<rect x="260.00" y="205.02" width="1.9" height="1.9" fill="#3cf010"/>
<rect x="255.05" y="205.24" width="1.9" height="1.9" fill="#3cf010"/>
<rect x="261.65" y="235.63" width="1.9" height="1.9" fill="#3cf010"/>
<rect x="254.50" y="240.50" width="1.9" height="1.9" fill="#3cf010"/>
<rect x="262.75" y="225.15" width="1.9" height="1.9" fill="#3cf010"/>
<rect x="254.50" y="220.91" width="1.9" height="1.9" fill="#3cf010"/>
<rect x="260.00" y="216.70" width="1.9" height="1.9" fill="#3cf010"/>
<rect x="256.70" y="244.75" width="1.9" height="1.9" fill="#3cf010"/>
<rect x="263.30" y="237.70" width="1.9" height="1.9" fill="#3cf010"/>
<rect x="255.05" y="226.21" width="1.9" height="1.9" fill="#3cf010"/>
<rect x="257.25" y="258.51" width="1.9" height="1.9" fill="#3cf010"/>
<rect x="254.50" y="253.16" width="1.9" height="1.9" fill="#3cf010"/>
<rect x="262.75" y="240.48" width="1.9" height="1.9" fill="#3cf010"/>
<rect x="258.90" y="228.90" width="1.9" height="1.9" fill="#3cf010"/>
<rect x="251.75" y="240.11" width="1.9" height="1.9" fill="#3cf010"/>
<rect x="254.50" y="230.44" width="1.9" height="1.9" fill="#3cf010"/>
<rect x="262.75" y="221.65" width="1.9" height="1.9" fill="#3cf010"/>
<rect x="257.25" y="265.33" width="1.9" height="1.9" fill="#3cf010"/>
<rect x="250.10" y="237.05" width="1.9" height="1.9" fill="#3cf010"/>
<rect x="252.30" y="219.32" width="1.9" height="1.9" fill="#3cf010"/>
<rect x="251.20" y="227.56" width="1.9" height="1.9" fill="#3cf010"/>
<rect x="261.65" y="227.60" width="1.9" height="1.9" fill="#3cf010"/>
<rect x="256.70" y="251.52" width="1.9" height="1.9" fill="#3cf010"/>
<rect x="249.55" y="224.60" width="1.9" height="1.9" fill="#3cf010"/>
<rect x="258.35" y="213.20" width="1.9" height="1.9" fill="#3cf010"/>
<rect x="265.50" y="224.97" width="1.9" height="1.9" fill="#3cf010"/>
<rect x="262.75" y="219.02" width="1.9" height="1.9" fill="#3cf010"/>
<rect x="255.60" y="213.58" width="1.9" height="1.9" fill="#3cf010"/>
<rect x="262.75" y="232.20" width="1.9" height="1.9" fill="#3cf010"/>
<rect x="264.40" y="227.75" width="1.9" height="1.9" fill="#3cf010"/>
<rect x="259.45" y="255.97" width="1.9" height="1.9" fill="#3cf010"/>
<rect x="261.65" y="250.83" width="1.9" height="1.9" fill="#3cf010"/>
<rect x="248.45" y="227.78" width="1.9" height="1.9" fill="#3cf010"/>
<rect x="251.20" y="233.19" width="1.9" height="1.9" fill="#3cf010"/>
<rect x="255.60" y="256.25" width="1.9" height="1.9" fill="#3cf010"/>
<rect x="246.80" y="225.30" width="1.9" height="1.9" fill="#3cf010"/>
<rect x="266.05" y="238.32" width="1.9" height="1.9" fill="#3cf010"/>
<rect x="252.85" y="255.94" width="1.9" height="1.9" fill="#3cf010"/>
<rect x="257.25" y="261.20" width="1.9" height="1.9" fill="#3cf010"/>
<rect x="267.15" y="228.78" width="1.9" height="1.9" fill="#3cf010"/>
<rect x="268.25" y="226.13" width="1.9" height="1.9" fill="#3cf010"/>
<rect x="244.05" y="224.77" width="1.9" height="1.9" fill="#3cf010"/>
<rect x="265.50" y="231.95" width="1.9" height="1.9" fill="#3cf010"/>
<rect x="261.10" y="214.09" width="1.9" height="1.9" fill="#3cf010"/>
<rect x="251.75" y="222.41" width="1.9" height="1.9" fill="#3cf010"/>
<rect x="254.50" y="210.73" width="1.9" height="1.9" fill="#3cf010"/>
<rect x="262.20" y="257.05" width="1.9" height="1.9" fill="#3cf010"/>
<rect x="259.45" y="274.65" width="1.9" height="1.9" fill="#3cf010"/>
<rect x="261.65" y="254.01" width="1.9" height="1.9" fill="#3cf010"/>
<rect x="245.70" y="229.10" width="1.9" height="1.9" fill="#3cf010"/>
<rect x="253.95" y="250.40" width="1.9" height="1.9" fill="#3cf010"/>
<rect x="260.00" y="270.25" width="1.9" height="1.9" fill="#3cf010"/>
<rect x="248.45" y="232.68" width="1.9" height="1.9" fill="#3cf010"/>
<rect x="251.20" y="251.77" width="1.9" height="1.9" fill="#3cf010"/>
<rect x="267.70" y="233.83" width="1.9" height="1.9" fill="#3cf010"/>
<rect x="264.40" y="252.06" width="1.9" height="1.9" fill="#3cf010"/>
<rect x="264.95" y="235.59" width="1.9" height="1.9" fill="#3cf010"/>
<rect x="255.05" y="274.60" width="1.9" height="1.9" fill="#3cf010"/>
<rect x="267.70" y="223.18" width="1.9" height="1.9" fill="#3cf010"/>
<rect x="247.90" y="222.44" width="1.9" height="1.9" fill="#3cf010"/>
<rect x="258.35" y="246.90" width="1.9" height="1.9" fill="#3cf010"/>
<rect x="254.50" y="216.75" width="1.9" height="1.9" fill="#3cf010"/>
<rect x="270.45" y="224.47" width="1.9" height="1.9" fill="#3cf010"/>
<rect x="245.70" y="231.76" width="1.9" height="1.9" fill="#3cf010"/>
<rect x="255.05" y="268.06" width="1.9" height="1.9" fill="#3cf010"/>
<rect x="247.35" y="237.03" width="1.9" height="1.9" fill="#3cf010"/>
<rect x="262.75" y="210.49" width="1.9" height="1.9" fill="#3cf010"/>
<rect x="248.45" y="252.29" width="1.9" height="1.9" fill="#3cf010"/>
<rect x="268.80" y="237.40" width="1.9" height="1.9" fill="#3cf010"/>
<rect x="264.40" y="255.43" width="1.9" height="1.9" fill="#3cf010"/>
<rect x="265.50" y="220.67" width="1.9" height="1.9" fill="#3cf010"/>
<rect x="260.00" y="258.82" width="1.9" height="1.9" fill="#3cf010"/>
<rect x="259.45" y="263.45" width="1.9" height="1.9" fill="#3cf010"/>
<rect x="250.65" y="217.30" width="1.9" height="1.9" fill="#3cf010"/>
<rect x="250.10" y="255.57" width="1.9" height="1.9" fill="#3cf010"/>
<rect x="268.80" y="230.90" width="1.9" height="1.9" fill="#3cf010"/>
<rect x="247.90" y="218.68" width="1.9" height="1.9" fill="#3cf010"/>
<rect x="270.45" y="227.93" width="1.9" height="1.9" fill="#3cf010"/>
<rect x="267.70" y="218.95" width="1.9" height="1.9" fill="#3cf010"/>
<rect x="264.95" y="217.16" width="1.9" height="1.9" fill="#3cf010"/>
<rect x="245.15" y="219.89" width="1.9" height="1.9" fill="#3cf010"/>
<rect x="250.10" y="242.27" width="1.9" height="1.9" fill="#3cf010"/>
<rect x="267.15" y="254.35" width="1.9" height="1.9" fill="#3cf010"/>
<rect x="247.90" y="215.92" width="1.9" height="1.9" fill="#3cf010"/>
<rect x="252.85" y="214.42" width="1.9" height="1.9" fill="#3cf010"/>
<rect x="251.75" y="211.42" width="1.9" height="1.9" fill="#3cf010"/>
<rect x="269.90" y="221.43" width="1.9" height="1.9" fill="#3cf010"/>
<rect x="248.45" y="239.94" width="1.9" height="1.9" fill="#3cf010"/>
<rect x="269.90" y="217.46" width="1.9" height="1.9" fill="#3cf010"/>
<rect x="257.80" y="206.46" width="1.9" height="1.9" fill="#3cf010"/>
<rect x="245.70" y="239.50" width="1.9" height="1.9" fill="#3cf010"/>
<rect x="254.50" y="262.25" width="1.9" height="1.9" fill="#3cf010"/>
<rect x="270.45" y="239.51" width="1.9" height="1.9" fill="#3cf010"/>
<rect x="247.35" y="255.83" width="1.9" height="1.9" fill="#3cf010"/>
<rect x="253.95" y="244.26" width="1.9" height="1.9" fill="#3cf010"/>
<line x1="245.20" y1="239.30" x2="271.20" y2="239.30" stroke="#222" stroke-width="1.3" />
<line x1="258.20" y1="220.49" x2="258.20" y2="258.12" stroke="#222" stroke-width="1.1" />
<line x1="251.90" y1="220.49" x2="264.50" y2="220.49" stroke="#222" stroke-width="1.1" />
<line x1="251.90" y1="258.12" x2="264.50" y2="258.12" stroke="#222" stroke-width="1.1" />
<line x1="258.20" y1="285.00" x2="258.20" y2="287.00" stroke="#3cf010" stroke-width="1.6" />
<text x="203.80" y="297.80" font-size="7.8" text-anchor="middle" font-weight="normal" fill="#111" stroke="#111" stroke-width="0.18" >WT</text>
<text x="230.80" y="297.80" font-size="7.8" text-anchor="middle" font-weight="normal" fill="#111" stroke="#111" stroke-width="0.18" >C490A</text>
<text x="258.50" y="297.80" font-size="7.8" text-anchor="middle" font-weight="normal" fill="#111" stroke="#111" stroke-width="0.18" >C545A</text>
<polyline points="204.1,206.1 204.1,191.4 231.2,191.4 231.2,193.3" fill="none" stroke="#111" stroke-width="1.1"/>
<polyline points="204.1,181.3 204.1,176.2 258.4,176.2 258.4,193.3" fill="none" stroke="#111" stroke-width="1.1"/>
<text x="217.70" y="191.90" font-size="10.4" text-anchor="middle" font-weight="normal" fill="#111" stroke="#1a1a1a" stroke-width="0.25">****</text>
<text x="231.70" y="177.00" font-size="10.4" text-anchor="middle" font-weight="normal" fill="#111" stroke="#1a1a1a" stroke-width="0.25">****</text>
<rect x="270.10" y="180.00" width="1.70" height="1.70" fill="#c8001a" stroke="none" stroke-width="0.8" />
<text x="275.00" y="183.00" font-size="7.6" text-anchor="start" font-weight="normal" fill="#111" stroke="#111" stroke-width="0.18" >WT</text>
<rect x="270.10" y="188.90" width="1.70" height="1.70" fill="#0a35c0" stroke="none" stroke-width="0.8" />
<text x="275.00" y="192.50" font-size="7.6" text-anchor="start" font-weight="normal" fill="#111" stroke="#111" stroke-width="0.18" >C490A</text>
<rect x="270.10" y="198.70" width="1.70" height="1.70" fill="#3cf010" stroke="none" stroke-width="0.8" />
<text x="275.00" y="201.90" font-size="7.6" text-anchor="start" font-weight="normal" fill="#111" stroke="#111" stroke-width="0.18" >C545A</text>
<text x="353.50" y="188.20" font-size="7.4" text-anchor="middle" font-weight="normal" fill="#333" stroke="#333" stroke-width="0.05" >IP: β3</text>
<line x1="333.30" y1="191.70" x2="376.50" y2="191.70" stroke="#111" stroke-width="1.1" />
<text x="341.80" y="229.00" font-size="7.3" text-anchor="start" font-weight="normal" fill="#2a2a2a" stroke="#2a2a2a" stroke-width="0.05" transform="rotate(-90 341.8 229)" >WT</text>
<text x="356.60" y="229.00" font-size="7.3" text-anchor="start" font-weight="normal" fill="#2a2a2a" stroke="#2a2a2a" stroke-width="0.05" transform="rotate(-90 356.6 229)" >C490A</text>
<text x="370.90" y="229.00" font-size="7.3" text-anchor="start" font-weight="normal" fill="#2a2a2a" stroke="#2a2a2a" stroke-width="0.05" transform="rotate(-90 370.9 229)" >C545A</text>
<defs><linearGradient id="bg1" x1="0" y1="0" x2="0" y2="1"><stop offset="0" stop-color="#bfcacb"/><stop offset="0.2" stop-color="#dbe3e3"/><stop offset="1" stop-color="#e6ecec"/></linearGradient><linearGradient id="bg2" x1="0" y1="0" x2="0" y2="1"><stop offset="0" stop-color="#d5dddd"/><stop offset="0.15" stop-color="#e8eeee"/><stop offset="1" stop-color="#eef2f2"/></linearGradient></defs>
<rect x="333.30" y="230.30" width="42.30" height="26.20" fill="url(#bg1)" stroke="#4a4a4a" stroke-width="0.9" />
<rect x="333.30" y="259.50" width="42.30" height="25.00" fill="url(#bg2)" stroke="#4a4a4a" stroke-width="0.9" />
<g filter="url(#bl)">
<path d="M336,238.2 L345.8,238.2 Q348.3,238.4 348.3,241.2 Q347.9,244.8 346.3,246.8 Q345.6,247.6 344,247.6 L338.5,247.6 Q336.6,247.6 336.1,246.3 Q334.5,244.2 334,241.3 Q334,238.3 336,238.2 Z" fill="#050505"/>
<path d="M347.5,240.5 Q354,239.8 360.2,240.3 Q360.9,241.6 360.2,243.0 Q354,243.5 347.5,243.0 Z" fill="#0a0a0a"/>
<path d="M362.4,240.2 Q368,239.5 374.2,240.0 Q374.9,241.7 374.2,243.4 Q368,244.0 362.4,243.5 Q361.9,241.8 362.4,240.2 Z" fill="#0a0a0a"/>
<defs><linearGradient id="ap2" gradientUnits="userSpaceOnUse" x1="333.8" y1="0" x2="375" y2="0"><stop offset="0" stop-color="#66706f"/><stop offset="0.3" stop-color="#3a4445"/><stop offset="0.6" stop-color="#1e2729"/><stop offset="1" stop-color="#1a2224"/></linearGradient></defs>
<path d="M333.8,271.8 Q345,271.6 355,270.6 Q366,269.4 375,267.8" fill="none" stroke="url(#ap2)" stroke-width="1.6"/>
</g>
<ellipse cx="350" cy="270.8" rx="2.6" ry="1.1" fill="#0a1012" opacity="0.35" filter="url(#bl)"/>
<ellipse cx="363.5" cy="269.3" rx="2.6" ry="1.1" fill="#0a1012" opacity="0.35" filter="url(#bl)"/>
<ellipse cx="370" cy="268.5" rx="2.6" ry="1.1" fill="#0a1012" opacity="0.35" filter="url(#bl)"/>
<text x="329.90" y="242.20" font-size="8.2" text-anchor="end" font-weight="normal" fill="#333" stroke="#333" stroke-width="0.05" >120</text>
<text x="329.90" y="249.30" font-size="8.2" text-anchor="end" font-weight="normal" fill="#333" stroke="#333" stroke-width="0.05" >100</text>
<text x="329.90" y="273.30" font-size="8.2" text-anchor="end" font-weight="normal" fill="#333" stroke="#333" stroke-width="0.05" >50</text>
<text x="377.60" y="246.40" font-size="7.8" text-anchor="start" font-weight="normal" fill="#2a2a2a" stroke="#2a2a2a" stroke-width="0.05" textLength="30.7" lengthAdjust="spacingAndGlyphs" >IB: CD41</text>
<text x="377.60" y="275.00" font-size="7.8" text-anchor="start" font-weight="normal" fill="#2a2a2a" stroke="#2a2a2a" stroke-width="0.05" textLength="25.7" lengthAdjust="spacingAndGlyphs" >IB: AP2</text>
<line x1="442.80" y1="176.20" x2="442.80" y2="284.40" stroke="#000" stroke-width="1.45" />
<line x1="439.60" y1="283.70" x2="442.80" y2="283.70" stroke="#000" stroke-width="1.0" />
<text x="437.20" y="286.60" font-size="8" text-anchor="end" font-weight="normal" fill="#111" stroke="#111" stroke-width="0.18" >0</text>
<line x1="439.60" y1="256.95" x2="442.80" y2="256.95" stroke="#000" stroke-width="1.0" />
<text x="437.20" y="259.85" font-size="8" text-anchor="end" font-weight="normal" fill="#111" stroke="#111" stroke-width="0.18" >2</text>
<line x1="439.60" y1="230.20" x2="442.80" y2="230.20" stroke="#000" stroke-width="1.0" />
<text x="437.20" y="233.10" font-size="8" text-anchor="end" font-weight="normal" fill="#111" stroke="#111" stroke-width="0.18" >4</text>
<line x1="439.60" y1="203.45" x2="442.80" y2="203.45" stroke="#000" stroke-width="1.0" />
<text x="437.20" y="206.35" font-size="8" text-anchor="end" font-weight="normal" fill="#111" stroke="#111" stroke-width="0.18" >6</text>
<line x1="439.60" y1="176.70" x2="442.80" y2="176.70" stroke="#000" stroke-width="1.0" />
<text x="437.20" y="179.60" font-size="8" text-anchor="end" font-weight="normal" fill="#111" stroke="#111" stroke-width="0.18" >8</text>
<line x1="442.10" y1="283.70" x2="513.00" y2="283.70" stroke="#000" stroke-width="1.45" />
<text x="428.30" y="231.00" font-size="8.6" text-anchor="middle" font-weight="bold" fill="#111" transform="rotate(-90 428.3 231)" textLength="93" lengthAdjust="spacingAndGlyphs" >AP2/αIIb ratio relative to WT</text>
<rect x="449.40" y="269.40" width="13.80" height="14.30" fill="#c80012" stroke="#000" stroke-width="0.9" />
<rect x="471.00" y="246.10" width="14.00" height="37.60" fill="#0232b2" stroke="#000" stroke-width="0.9" />
<rect x="492.30" y="228.80" width="14.30" height="54.90" fill="#40ff02" stroke="#000" stroke-width="0.9" />
<line x1="478.00" y1="243.90" x2="478.00" y2="248.30" stroke="#000" stroke-width="1.1" />
<line x1="474.70" y1="243.90" x2="481.30" y2="243.90" stroke="#000" stroke-width="1.1" />
<line x1="474.70" y1="248.30" x2="481.30" y2="248.30" stroke="#000" stroke-width="1.1" />
<line x1="499.50" y1="217.20" x2="499.50" y2="239.60" stroke="#000" stroke-width="1.1" />
<line x1="495.70" y1="217.20" x2="503.30" y2="217.20" stroke="#000" stroke-width="1.1" />
<line x1="495.70" y1="239.60" x2="503.30" y2="239.60" stroke="#000" stroke-width="1.1" />
<circle cx="450.80" cy="269.40" r="1.8" fill="#000"/>
<circle cx="454.60" cy="269.40" r="1.8" fill="#000"/>
<circle cx="458.20" cy="269.40" r="1.8" fill="#000"/>
<circle cx="461.80" cy="269.40" r="1.8" fill="#000"/>
<circle cx="472.80" cy="247.90" r="1.8" fill="#000"/>
<circle cx="478.30" cy="245.40" r="1.8" fill="#000"/>
<circle cx="483.90" cy="242.10" r="1.8" fill="#000"/>
<circle cx="483.20" cy="248.30" r="1.8" fill="#000"/>
<circle cx="499.40" cy="195.40" r="1.8" fill="#000"/>
<circle cx="499.50" cy="235.60" r="1.8" fill="#000"/>
<circle cx="495.90" cy="242.60" r="1.8" fill="#000"/>
<circle cx="503.00" cy="239.90" r="1.8" fill="#000"/>
<line x1="456.30" y1="283.70" x2="456.30" y2="286.30" stroke="#000" stroke-width="1.0" />
<line x1="478.00" y1="283.70" x2="478.00" y2="286.30" stroke="#000" stroke-width="1.0" />
<line x1="499.40" y1="283.70" x2="499.40" y2="286.30" stroke="#000" stroke-width="1.0" />
<text x="461.00" y="290.30" font-size="7.8" text-anchor="end" font-weight="normal" fill="#111" stroke="#111" stroke-width="0.18" transform="rotate(-45 461 290.3)" >WT</text>
<text x="481.80" y="290.30" font-size="7.8" text-anchor="end" font-weight="normal" fill="#111" stroke="#111" stroke-width="0.18" transform="rotate(-45 481.8 290.3)" >C490A</text>
<text x="503.40" y="290.30" font-size="7.8" text-anchor="end" font-weight="normal" fill="#111" stroke="#111" stroke-width="0.18" transform="rotate(-45 503.4 290.3)" >C545A</text>
<polyline points="455.4,253.9 455.4,220.6 478.3,220.6 478.3,233.9" fill="none" stroke="#111" stroke-width="1.1"/>
<polyline points="455.4,211.2 455.4,183.9 499.4,183.9 499.4,187.2" fill="none" stroke="#111" stroke-width="1.1"/>
<text x="466.30" y="222.20" font-size="8" text-anchor="middle" font-weight="normal" fill="#111" stroke="#111" stroke-width="0.18" >*</text>
<text x="477.60" y="183.70" font-size="8" text-anchor="middle" font-weight="normal" fill="#111" stroke="#111" stroke-width="0.18" >**</text>
<rect x="0.8" y="0.8" width="518.4" height="313.4" fill="none" stroke="#000" stroke-width="1.6"/>
</svg>
</body></html>
